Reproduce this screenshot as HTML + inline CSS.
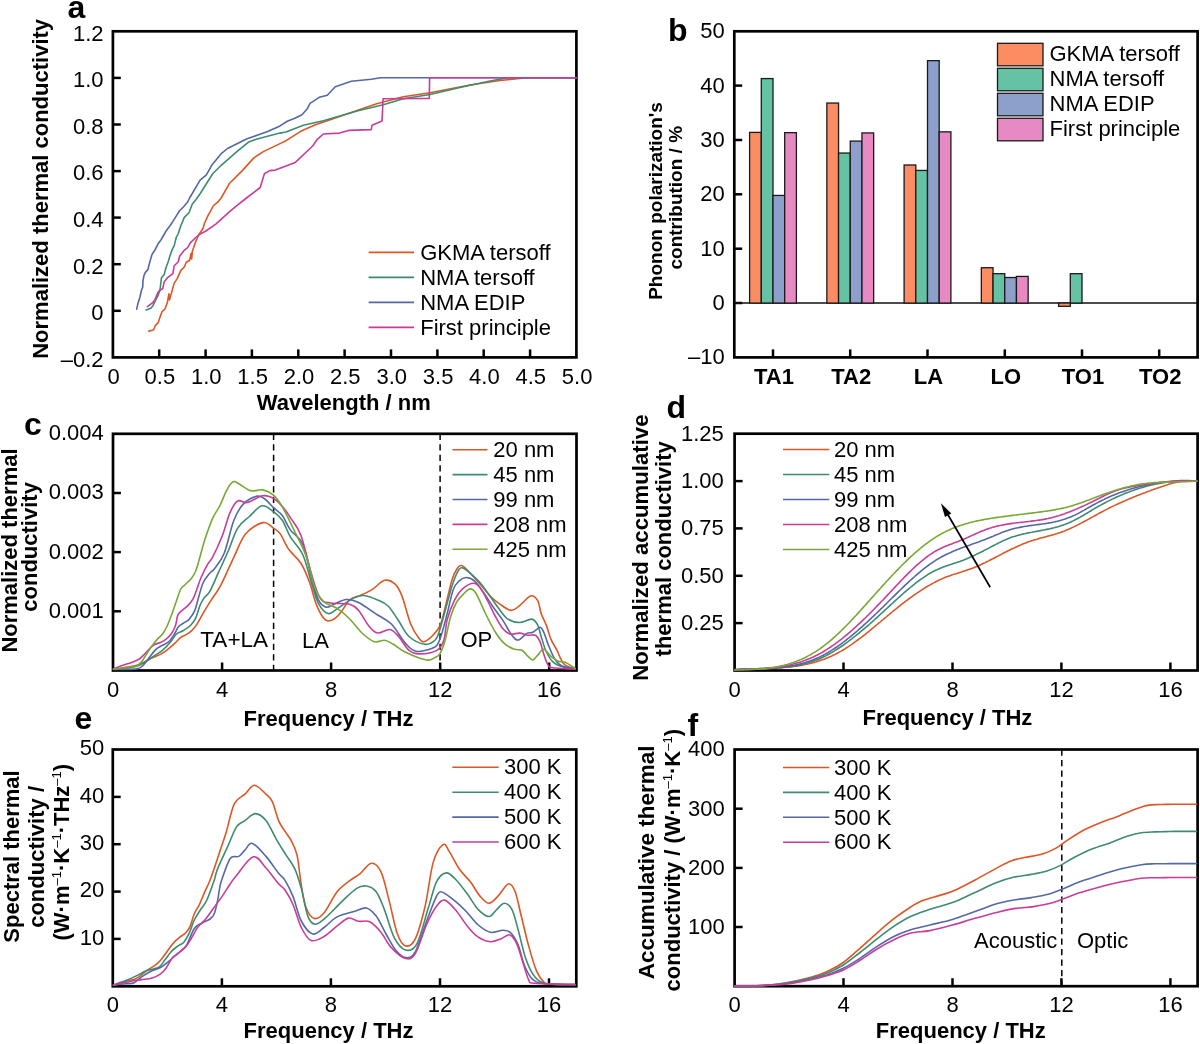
<!DOCTYPE html>
<html><head><meta charset="utf-8"><title>Figure</title>
<style>
html,body{margin:0;padding:0;background:#fff;}
body{width:1200px;height:1044px;overflow:hidden;}
svg{display:block;will-change:transform;}
text{font-family:"Liberation Sans", sans-serif;fill:#000;}
</style></head>
<body>
<svg width="1200" height="1044" viewBox="0 0 1200 1044" font-family='"Liberation Sans", sans-serif'>
<rect width="1200" height="1044" fill="#fff"/>
<rect x="112.9" y="31.3" width="463.5" height="326.1" fill="none" stroke="#000" stroke-width="2.7"/>
<line x1="112.9" y1="310.8" x2="120.8" y2="310.8" stroke="#000" stroke-width="2.5"/>
<line x1="112.9" y1="264.2" x2="120.8" y2="264.2" stroke="#000" stroke-width="2.5"/>
<line x1="112.9" y1="217.6" x2="120.8" y2="217.6" stroke="#000" stroke-width="2.5"/>
<line x1="112.9" y1="171.1" x2="120.8" y2="171.1" stroke="#000" stroke-width="2.5"/>
<line x1="112.9" y1="124.5" x2="120.8" y2="124.5" stroke="#000" stroke-width="2.5"/>
<line x1="112.9" y1="77.9" x2="120.8" y2="77.9" stroke="#000" stroke-width="2.5"/>
<line x1="159.2" y1="357.4" x2="159.2" y2="349.4" stroke="#000" stroke-width="2.5"/>
<line x1="205.6" y1="357.4" x2="205.6" y2="349.4" stroke="#000" stroke-width="2.5"/>
<line x1="251.9" y1="357.4" x2="251.9" y2="349.4" stroke="#000" stroke-width="2.5"/>
<line x1="298.3" y1="357.4" x2="298.3" y2="349.4" stroke="#000" stroke-width="2.5"/>
<line x1="344.6" y1="357.4" x2="344.6" y2="349.4" stroke="#000" stroke-width="2.5"/>
<line x1="391.0" y1="357.4" x2="391.0" y2="349.4" stroke="#000" stroke-width="2.5"/>
<line x1="437.4" y1="357.4" x2="437.4" y2="349.4" stroke="#000" stroke-width="2.5"/>
<line x1="483.7" y1="357.4" x2="483.7" y2="349.4" stroke="#000" stroke-width="2.5"/>
<line x1="530.1" y1="357.4" x2="530.1" y2="349.4" stroke="#000" stroke-width="2.5"/>
<text x="103.5" y="40.6" font-size="22" text-anchor="end" >1.2</text>
<text x="103.5" y="87.2" font-size="22" text-anchor="end" >1.0</text>
<text x="103.5" y="133.8" font-size="22" text-anchor="end" >0.8</text>
<text x="103.5" y="180.4" font-size="22" text-anchor="end" >0.6</text>
<text x="103.5" y="226.9" font-size="22" text-anchor="end" >0.4</text>
<text x="103.5" y="273.5" font-size="22" text-anchor="end" >0.2</text>
<text x="103.5" y="320.1" font-size="22" text-anchor="end" >0</text>
<text x="103.5" y="366.7" font-size="22" text-anchor="end" >&#8211;0.2</text>
<text x="113.6" y="383.5" font-size="22" text-anchor="middle" >0</text>
<text x="159.9" y="383.5" font-size="22" text-anchor="middle" >0.5</text>
<text x="206.3" y="383.5" font-size="22" text-anchor="middle" >1.0</text>
<text x="252.6" y="383.5" font-size="22" text-anchor="middle" >1.5</text>
<text x="299.0" y="383.5" font-size="22" text-anchor="middle" >2.0</text>
<text x="345.3" y="383.5" font-size="22" text-anchor="middle" >2.5</text>
<text x="391.7" y="383.5" font-size="22" text-anchor="middle" >3.0</text>
<text x="438.1" y="383.5" font-size="22" text-anchor="middle" >3.5</text>
<text x="484.4" y="383.5" font-size="22" text-anchor="middle" >4.0</text>
<text x="530.8" y="383.5" font-size="22" text-anchor="middle" >4.5</text>
<text x="577.1" y="383.5" font-size="22" text-anchor="middle" >5.0</text>
<text x="343.8" y="409.5" font-size="22" font-weight="bold" text-anchor="middle" >Wavelength / nm</text>
<text transform="translate(48.4,358.8) rotate(-90)" font-size="22" font-weight="bold" text-anchor="start" >Normalized thermal conductivity</text>
<text x="67.5" y="18.0" font-size="32" font-weight="bold" text-anchor="start" >a</text>
<path d="M148.8,331.1 L153.5,330.0 L155.5,325.3 L158.2,322.7 L160.2,316.6 L162.2,311.3 L164.9,309.2 L167.5,301.9 L168.9,293.8 L169.5,299.9 L171.6,292.5 L174.2,283.1 L176.9,279.1 L180.9,270.4 L184.3,267.0 L186.3,262.3 L189.7,260.3 L191.0,253.6 L191.7,259.0 L192.3,251.6 L195.7,241.6 L198.4,235.5 L203.1,228.2 L204.4,223.5 L207.7,216.1 L210.4,211.4 L213.1,206.0 L218.5,201.3 L221.2,198.0 L229.6,183.2 L242.3,170.6 L253.9,157.9 L263.3,151.6 L280.0,143.6 L286.0,140.7 L300.7,131.3 L315.3,124.7 L327.3,120.7 L344.7,114.7 L360.7,109.3 L376.7,103.7 L403.3,96.7 L430.0,92.8 L470.0,85.0 L500.0,80.5 L526.7,77.7 L576.0,77.7" fill="none" stroke="#DC5726" stroke-width="1.6" stroke-linejoin="round" stroke-linecap="round"/>
<path d="M146.1,309.9 L150.8,308.3 L152.8,305.9 L155.5,300.5 L158.2,295.2 L160.2,288.5 L160.8,283.1 L161.5,277.7 L164.2,274.4 L166.2,267.0 L168.2,261.7 L170.2,255.0 L172.2,249.6 L174.2,245.6 L176.2,237.5 L178.3,233.5 L180.9,225.5 L184.3,217.4 L189.0,212.7 L192.3,204.0 L195.7,200.0 L200.1,193.8 L212.7,173.8 L221.2,165.3 L238.0,150.6 L248.6,142.1 L257.0,139.0 L280.0,133.1 L286.0,132.0 L303.3,125.3 L323.3,120.7 L358.0,110.7 L383.3,104.7 L403.3,98.7 L430.0,94.5 L460.0,87.5 L490.0,81.0 L508.0,77.7 L576.0,77.7" fill="none" stroke="#3D8C70" stroke-width="1.6" stroke-linejoin="round" stroke-linecap="round"/>
<path d="M136.7,309.2 L138.0,303.2 L140.1,296.5 L141.4,290.5 L142.7,287.1 L143.0,280.4 L144.1,275.1 L145.4,272.4 L148.1,269.4 L148.8,265.7 L150.1,261.0 L152.1,254.3 L154.8,250.3 L158.2,243.6 L160.8,240.2 L163.5,235.5 L166.2,230.8 L170.2,225.5 L172.9,221.4 L176.2,216.1 L179.6,210.7 L183.6,206.7 L187.6,202.0 L189.6,198.0 L200.1,180.1 L206.4,174.8 L211.7,165.3 L221.2,153.7 L227.5,148.5 L246.5,139.0 L267.6,131.6 L280.0,125.9 L287.3,121.3 L295.3,118.0 L302.0,114.7 L307.3,108.7 L310.0,103.3 L319.3,97.3 L327.3,95.3 L335.3,86.7 L351.3,81.3 L371.3,79.3 L380.7,77.7 L576.0,77.7" fill="none" stroke="#5468A6" stroke-width="1.6" stroke-linejoin="round" stroke-linecap="round"/>
<path d="M147.4,306.6 L152.1,303.2 L154.8,299.9 L158.2,291.8 L162.8,288.5 L164.2,281.8 L167.5,277.7 L172.9,273.7 L174.2,265.7 L178.3,261.7 L179.6,256.3 L183.6,250.9 L187.6,247.6 L190.3,242.9 L195.7,237.5 L199.7,234.2 L205.1,231.5 L215.8,224.1 L229.9,211.4 L235.9,206.4 L246.5,198.0 L260.2,187.5 L264.4,173.8 L269.7,170.6 L275.3,170.1 L295.3,162.4 L312.7,146.0 L317.3,139.3 L323.3,134.0 L339.3,133.1 L348.7,130.4 L371.3,129.6 L372.0,125.3 L382.0,121.1 L383.1,98.7 L429.3,98.4 L429.6,77.7 L576.0,77.7" fill="none" stroke="#C93D9A" stroke-width="1.6" stroke-linejoin="round" stroke-linecap="round"/>
<line x1="368.6" y1="252.4" x2="414.1" y2="252.4" stroke="#DC5726" stroke-width="1.6"/>
<text x="420.2" y="259.5" font-size="22" text-anchor="start" >GKMA tersoff</text>
<line x1="368.6" y1="277.4" x2="414.1" y2="277.4" stroke="#3D8C70" stroke-width="1.6"/>
<text x="420.2" y="284.5" font-size="22" text-anchor="start" >NMA tersoff</text>
<line x1="368.6" y1="302.4" x2="414.1" y2="302.4" stroke="#5468A6" stroke-width="1.6"/>
<text x="420.2" y="309.5" font-size="22" text-anchor="start" >NMA EDIP</text>
<line x1="368.6" y1="327.4" x2="414.1" y2="327.4" stroke="#C93D9A" stroke-width="1.6"/>
<text x="420.2" y="334.5" font-size="22" text-anchor="start" >First principle</text>
<rect x="734.3" y="31.3" width="463.3" height="326.1" fill="none" stroke="#000" stroke-width="2.7"/>
<line x1="734.3" y1="85.6" x2="742.2" y2="85.6" stroke="#000" stroke-width="2.5"/>
<line x1="734.3" y1="140.0" x2="742.2" y2="140.0" stroke="#000" stroke-width="2.5"/>
<line x1="734.3" y1="194.3" x2="742.2" y2="194.3" stroke="#000" stroke-width="2.5"/>
<line x1="734.3" y1="248.7" x2="742.2" y2="248.7" stroke="#000" stroke-width="2.5"/>
<line x1="734.3" y1="303.0" x2="742.2" y2="303.0" stroke="#000" stroke-width="2.5"/>
<line x1="773.0" y1="357.4" x2="773.0" y2="349.4" stroke="#000" stroke-width="2.5"/>
<line x1="850.2" y1="357.4" x2="850.2" y2="349.4" stroke="#000" stroke-width="2.5"/>
<line x1="927.5" y1="357.4" x2="927.5" y2="349.4" stroke="#000" stroke-width="2.5"/>
<line x1="1004.8" y1="357.4" x2="1004.8" y2="349.4" stroke="#000" stroke-width="2.5"/>
<line x1="1082.0" y1="357.4" x2="1082.0" y2="349.4" stroke="#000" stroke-width="2.5"/>
<line x1="1159.2" y1="357.4" x2="1159.2" y2="349.4" stroke="#000" stroke-width="2.5"/>
<text x="724.8" y="38.3" font-size="22" text-anchor="end" >50</text>
<text x="724.8" y="92.6" font-size="22" text-anchor="end" >40</text>
<text x="724.8" y="147.0" font-size="22" text-anchor="end" >30</text>
<text x="724.8" y="201.3" font-size="22" text-anchor="end" >20</text>
<text x="724.8" y="255.7" font-size="22" text-anchor="end" >10</text>
<text x="724.8" y="310.0" font-size="22" text-anchor="end" >0</text>
<text x="724.8" y="364.4" font-size="22" text-anchor="end" >&#8211;10</text>
<text x="774.0" y="384.2" font-size="22" font-weight="bold" text-anchor="middle" >TA1</text>
<text x="851.2" y="384.2" font-size="22" font-weight="bold" text-anchor="middle" >TA2</text>
<text x="928.5" y="384.2" font-size="22" font-weight="bold" text-anchor="middle" >LA</text>
<text x="1005.8" y="384.2" font-size="22" font-weight="bold" text-anchor="middle" >LO</text>
<text x="1083.0" y="384.2" font-size="22" font-weight="bold" text-anchor="middle" >TO1</text>
<text x="1160.2" y="384.2" font-size="22" font-weight="bold" text-anchor="middle" >TO2</text>
<line x1="734.3" y1="303.0" x2="1197.6" y2="303.0" stroke="#111" stroke-width="1.5"/>
<rect x="749.60" y="132.39" width="11.70" height="170.66" fill="#FC8D62" stroke="#1a1a1a" stroke-width="1.3"/>
<rect x="761.30" y="78.58" width="11.70" height="224.47" fill="#66C2A5" stroke="#1a1a1a" stroke-width="1.3"/>
<rect x="773.00" y="195.44" width="11.70" height="107.61" fill="#8DA0CB" stroke="#1a1a1a" stroke-width="1.3"/>
<rect x="784.70" y="132.66" width="11.70" height="170.39" fill="#E78AC3" stroke="#1a1a1a" stroke-width="1.3"/>
<rect x="826.85" y="103.04" width="11.70" height="200.01" fill="#FC8D62" stroke="#1a1a1a" stroke-width="1.3"/>
<rect x="838.55" y="153.04" width="11.70" height="150.01" fill="#66C2A5" stroke="#1a1a1a" stroke-width="1.3"/>
<rect x="850.25" y="141.09" width="11.70" height="161.96" fill="#8DA0CB" stroke="#1a1a1a" stroke-width="1.3"/>
<rect x="861.95" y="132.93" width="11.70" height="170.12" fill="#E78AC3" stroke="#1a1a1a" stroke-width="1.3"/>
<rect x="904.10" y="165.00" width="11.70" height="138.05" fill="#FC8D62" stroke="#1a1a1a" stroke-width="1.3"/>
<rect x="915.80" y="170.44" width="11.70" height="132.61" fill="#66C2A5" stroke="#1a1a1a" stroke-width="1.3"/>
<rect x="927.50" y="60.65" width="11.70" height="242.40" fill="#8DA0CB" stroke="#1a1a1a" stroke-width="1.3"/>
<rect x="939.20" y="131.85" width="11.70" height="171.20" fill="#E78AC3" stroke="#1a1a1a" stroke-width="1.3"/>
<rect x="981.35" y="267.72" width="11.70" height="35.33" fill="#FC8D62" stroke="#1a1a1a" stroke-width="1.3"/>
<rect x="993.05" y="273.70" width="11.70" height="29.35" fill="#66C2A5" stroke="#1a1a1a" stroke-width="1.3"/>
<rect x="1004.75" y="277.51" width="11.70" height="25.54" fill="#8DA0CB" stroke="#1a1a1a" stroke-width="1.3"/>
<rect x="1016.45" y="276.42" width="11.70" height="26.63" fill="#E78AC3" stroke="#1a1a1a" stroke-width="1.3"/>
<rect x="1058.60" y="303.05" width="11.70" height="3.26" fill="#FC8D62" stroke="#1a1a1a" stroke-width="1.3"/>
<rect x="1070.30" y="273.70" width="11.70" height="29.35" fill="#66C2A5" stroke="#1a1a1a" stroke-width="1.3"/>
<rect x="997.5" y="43.3" width="45.5" height="22.5" fill="#FC8D62" stroke="#1a1a1a" stroke-width="1.3"/>
<text x="1049.5" y="61.3" font-size="22" text-anchor="start" >GKMA tersoff</text>
<rect x="997.5" y="68.3" width="45.5" height="22.5" fill="#66C2A5" stroke="#1a1a1a" stroke-width="1.3"/>
<text x="1049.5" y="86.3" font-size="22" text-anchor="start" >NMA tersoff</text>
<rect x="997.5" y="93.3" width="45.5" height="22.5" fill="#8DA0CB" stroke="#1a1a1a" stroke-width="1.3"/>
<text x="1049.5" y="111.3" font-size="22" text-anchor="start" >NMA EDIP</text>
<rect x="997.5" y="118.3" width="45.5" height="22.5" fill="#E78AC3" stroke="#1a1a1a" stroke-width="1.3"/>
<text x="1049.5" y="136.3" font-size="22" text-anchor="start" >First principle</text>
<text transform="translate(662.3,299.8) rotate(-90)" font-size="19" font-weight="bold" text-anchor="start" >Phonon polarization's</text>
<text transform="translate(681.8,269.5) rotate(-90)" font-size="19" font-weight="bold" text-anchor="start" >contribution / %</text>
<text x="668.0" y="40.5" font-size="32" font-weight="bold" text-anchor="start" >b</text>
<rect x="113.0" y="433.8" width="463.5" height="236.7" fill="none" stroke="#000" stroke-width="2.7"/>
<line x1="113.0" y1="611.3" x2="120.9" y2="611.3" stroke="#000" stroke-width="2.5"/>
<line x1="113.0" y1="552.1" x2="120.9" y2="552.1" stroke="#000" stroke-width="2.5"/>
<line x1="113.0" y1="493.0" x2="120.9" y2="493.0" stroke="#000" stroke-width="2.5"/>
<line x1="222.1" y1="670.5" x2="222.1" y2="662.5" stroke="#000" stroke-width="2.5"/>
<line x1="331.1" y1="670.5" x2="331.1" y2="662.5" stroke="#000" stroke-width="2.5"/>
<line x1="440.2" y1="670.5" x2="440.2" y2="662.5" stroke="#000" stroke-width="2.5"/>
<line x1="549.2" y1="670.5" x2="549.2" y2="662.5" stroke="#000" stroke-width="2.5"/>
<text x="103.8" y="440.2" font-size="22" text-anchor="end" >0.004</text>
<text x="103.8" y="499.4" font-size="22" text-anchor="end" >0.003</text>
<text x="103.8" y="558.5" font-size="22" text-anchor="end" >0.002</text>
<text x="103.8" y="617.7" font-size="22" text-anchor="end" >0.001</text>
<text x="113.0" y="696.8" font-size="22" text-anchor="middle" >0</text>
<text x="222.1" y="696.8" font-size="22" text-anchor="middle" >4</text>
<text x="331.1" y="696.8" font-size="22" text-anchor="middle" >8</text>
<text x="440.2" y="696.8" font-size="22" text-anchor="middle" >12</text>
<text x="549.2" y="696.8" font-size="22" text-anchor="middle" >16</text>
<text x="328.5" y="725.6" font-size="22" font-weight="bold" text-anchor="middle" >Frequency / THz</text>
<text transform="translate(17.1,652.6) rotate(-90)" font-size="22" font-weight="bold" text-anchor="start" >Normalized thermal</text>
<text transform="translate(36.7,611.7) rotate(-90)" font-size="22" font-weight="bold" text-anchor="start" >conductivity</text>
<text x="24.0" y="435.0" font-size="32" font-weight="bold" text-anchor="start" >c</text>
<line x1="273.6" y1="433.8" x2="273.6" y2="670.5" stroke="#000" stroke-width="1.5" stroke-dasharray="6.2,4.3"/>
<line x1="440.1" y1="433.8" x2="440.1" y2="670.5" stroke="#000" stroke-width="1.5" stroke-dasharray="6.2,4.3"/>
<path d="M113.5,669.2 C115.6,668.9 122.2,668.0 126.1,667.3 C130.0,666.6 133.8,666.1 136.8,665.2 C139.8,664.3 141.6,663.2 144.3,661.9 C147.0,660.6 150.2,658.9 152.9,657.6 C155.6,656.4 158.1,655.6 160.4,654.4 C162.7,653.1 164.6,651.9 166.9,650.1 C169.2,648.3 172.1,645.8 174.4,643.7 C176.7,641.6 178.8,638.8 180.8,637.3 C182.8,635.8 184.4,635.7 186.2,634.6 C188.0,633.5 189.7,632.5 191.5,630.8 C193.3,629.1 195.1,627.1 196.9,624.4 C198.7,621.7 200.1,618.5 202.3,614.7 C204.5,610.9 207.0,606.6 210.0,601.8 C213.0,597.0 216.3,593.5 220.3,586.1 C224.3,578.7 229.7,565.8 233.9,557.1 C238.1,548.4 240.7,539.6 245.5,533.9 C250.3,528.1 258.2,523.6 262.9,522.6 C267.6,521.6 270.6,526.2 273.5,528.1 C276.4,530.0 277.8,530.4 280.3,533.9 C282.8,537.4 285.3,544.4 288.7,549.3 C292.1,554.2 297.4,557.7 300.9,563.2 C304.4,568.7 307.0,575.4 309.6,582.4 C312.2,589.4 314.0,598.9 316.6,605.1 C319.2,611.4 322.4,617.6 325.3,619.9 C328.2,622.2 331.5,620.3 334.1,619.0 C336.7,617.7 338.4,615.3 341.0,612.1 C343.6,608.9 346.5,602.7 349.7,599.9 C352.9,597.1 356.4,597.2 360.2,595.5 C364.0,593.8 368.3,591.9 372.4,589.4 C376.5,586.9 380.8,581.2 384.6,580.3 C388.4,579.4 392.2,581.5 395.1,584.2 C398.0,586.9 399.5,589.7 402.1,596.4 C404.7,603.1 407.9,617.2 410.8,624.3 C413.7,631.4 417.2,636.2 419.5,639.1 C421.8,642.0 422.4,642.1 424.7,641.4 C427.0,640.7 430.8,637.5 433.4,634.7 C436.0,632.0 438.3,630.0 440.4,624.9 C442.5,619.8 444.0,611.8 445.9,604.4 C447.8,597.0 450.1,586.1 451.9,580.2 C453.7,574.4 455.1,571.8 456.7,569.3 C458.3,566.8 459.6,565.1 461.6,565.5 C463.6,565.9 465.6,568.5 468.8,571.7 C472.0,575.0 477.3,580.9 480.9,585.0 C484.5,589.1 487.4,593.3 490.6,596.5 C493.8,599.7 496.8,602.1 500.2,604.4 C503.6,606.7 507.9,610.2 511.1,610.4 C514.3,610.6 516.4,608.0 519.6,605.6 C522.8,603.2 527.5,596.7 530.5,595.9 C533.5,595.1 535.9,597.7 537.7,600.7 C539.5,603.7 539.9,610.0 541.3,614.0 C542.7,618.0 544.6,620.7 546.2,624.9 C547.8,629.1 549.2,635.2 551.0,639.4 C552.8,643.6 555.4,647.1 557.0,650.3 C558.6,653.5 559.3,656.2 560.7,658.7 C562.1,661.2 563.1,663.7 565.5,665.4 C567.9,667.1 573.6,668.4 575.2,669.0" fill="none" stroke="#DC5726" stroke-width="1.6" stroke-linejoin="round" stroke-linecap="round"/>
<path d="M113.5,669.2 C114.7,669.2 116.8,669.4 120.7,668.9 C124.6,668.4 132.7,667.4 136.8,666.2 C140.9,665.0 142.7,663.5 145.4,661.9 C148.1,660.3 150.2,658.4 152.9,656.6 C155.6,654.8 158.6,653.5 161.5,651.2 C164.4,648.9 167.6,645.5 170.1,642.6 C172.6,639.7 174.3,636.0 176.5,634.0 C178.7,632.0 180.7,632.2 183.0,630.8 C185.3,629.4 188.4,627.6 190.5,625.5 C192.6,623.4 194.2,621.3 195.8,617.9 C197.4,614.5 198.7,608.5 200.1,605.1 C201.5,601.7 202.8,599.9 204.4,597.6 C206.1,595.3 207.7,595.3 210.0,591.1 C212.3,586.9 215.4,579.2 218.4,572.6 C221.4,566.0 224.9,558.7 228.1,551.3 C231.3,543.9 234.1,533.9 237.7,528.1 C241.2,522.3 245.4,520.2 249.4,516.5 C253.4,512.8 257.9,506.6 261.9,505.8 C265.9,505.0 270.1,509.2 273.5,511.6 C276.9,514.0 279.5,516.0 282.3,520.3 C285.1,524.5 287.1,531.4 290.5,537.1 C293.9,542.8 299.2,547.0 302.7,554.5 C306.2,562.0 308.8,574.3 311.4,582.4 C314.0,590.5 315.6,598.1 318.4,603.3 C321.2,608.5 324.8,612.6 328.0,613.5 C331.2,614.4 333.3,611.2 337.5,608.6 C341.7,606.0 348.8,600.3 353.2,598.1 C357.6,595.9 359.6,595.2 363.7,595.5 C367.8,595.8 373.5,598.1 377.6,599.9 C381.7,601.6 384.6,602.5 388.1,606.0 C391.6,609.5 395.1,615.7 398.6,620.8 C402.1,625.9 404.6,632.6 409.0,636.5 C413.4,640.4 420.3,643.7 424.7,644.3 C429.1,644.9 432.7,642.4 435.2,640.0 C437.7,637.6 438.0,635.0 439.8,629.7 C441.6,624.4 443.9,615.2 445.9,608.0 C447.9,600.8 449.9,592.4 451.9,586.2 C453.9,580.1 456.2,574.2 458.0,571.1 C459.8,568.0 460.6,567.4 462.8,567.9 C465.0,568.4 468.3,571.6 471.3,574.2 C474.3,576.9 477.7,580.0 480.9,583.8 C484.1,587.6 487.4,592.7 490.6,597.1 C493.8,601.5 497.4,606.8 500.2,610.4 C503.0,614.0 504.3,616.9 507.5,618.9 C510.7,620.9 515.6,622.5 519.6,622.5 C523.6,622.5 528.7,618.7 531.7,619.1 C534.7,619.5 536.1,621.9 537.7,624.9 C539.3,627.9 539.9,632.6 541.3,637.0 C542.7,641.4 544.2,647.3 546.2,651.5 C548.2,655.7 550.8,659.9 553.4,662.4 C556.0,664.9 558.3,665.5 561.9,666.6 C565.5,667.7 573.0,668.6 575.2,669.0" fill="none" stroke="#3D8C70" stroke-width="1.6" stroke-linejoin="round" stroke-linecap="round"/>
<path d="M113.5,669.4 C114.7,669.4 116.8,669.5 120.7,669.4 C124.6,669.3 133.2,669.4 136.8,668.9 C140.4,668.4 140.4,667.7 142.2,666.2 C144.0,664.7 145.4,662.5 147.6,659.8 C149.8,657.1 152.8,652.4 155.1,650.1 C157.4,647.8 159.2,647.2 161.5,645.8 C163.8,644.4 166.8,643.5 169.0,641.5 C171.2,639.5 172.8,636.5 174.4,634.0 C176.0,631.5 176.9,628.5 178.7,626.5 C180.5,624.5 183.3,623.5 185.1,622.2 C186.9,621.0 187.8,621.0 189.4,619.0 C191.0,617.0 193.2,614.3 194.8,610.4 C196.4,606.5 197.7,600.0 199.1,595.4 C200.5,590.8 201.5,586.2 203.3,582.5 C205.1,578.8 208.1,575.2 210.0,572.9 C211.9,570.6 212.1,572.0 214.5,568.7 C216.9,565.4 221.0,561.3 224.2,553.2 C227.4,545.1 230.7,528.5 233.9,520.3 C237.1,512.1 239.6,507.9 243.5,503.9 C247.4,499.9 253.6,496.9 257.1,496.1 C260.7,495.3 262.1,497.1 264.8,499.0 C267.5,500.9 270.6,504.9 273.5,507.7 C276.4,510.4 279.5,511.8 282.3,515.5 C285.1,519.2 287.1,525.3 290.5,530.1 C293.9,534.9 299.2,536.2 302.7,544.1 C306.2,552.0 308.8,567.9 311.4,577.2 C314.0,586.5 315.9,594.9 318.4,599.9 C320.9,604.9 323.6,606.5 326.2,607.2 C328.8,607.9 330.8,605.5 334.1,604.2 C337.5,602.9 342.2,599.8 346.3,599.5 C350.4,599.2 353.6,600.1 358.5,602.5 C363.4,604.9 370.4,610.2 375.9,613.8 C381.4,617.4 386.7,619.4 391.6,624.3 C396.5,629.2 401.4,638.9 405.5,643.4 C409.6,647.9 411.4,650.6 416.0,651.3 C420.6,652.0 429.4,649.8 433.4,647.8 C437.4,645.8 437.5,645.0 439.8,639.4 C442.1,633.8 444.9,622.2 447.1,614.0 C449.3,605.8 451.1,595.4 453.1,589.9 C455.1,584.4 457.0,582.9 459.2,580.8 C461.4,578.7 463.8,577.4 466.4,577.5 C469.0,577.6 472.1,578.9 474.9,581.4 C477.7,583.9 480.3,588.1 483.3,592.3 C486.3,596.5 489.8,602.2 493.0,606.8 C496.2,611.4 499.5,615.3 502.7,620.1 C505.9,624.9 509.7,632.5 512.3,635.8 C514.9,639.1 516.0,640.4 518.4,640.0 C520.8,639.6 524.4,634.7 526.8,633.4 C529.2,632.1 530.7,633.2 532.9,632.2 C535.1,631.2 538.3,627.3 540.1,627.3 C541.9,627.3 542.3,629.2 543.7,632.2 C545.1,635.2 546.8,641.1 548.6,645.5 C550.4,649.9 552.4,655.3 554.6,658.7 C556.8,662.1 558.5,664.3 561.9,666.0 C565.3,667.7 573.0,668.5 575.2,669.0" fill="none" stroke="#5468A6" stroke-width="1.6" stroke-linejoin="round" stroke-linecap="round"/>
<path d="M113.5,668.8 C115.1,668.2 119.9,666.2 122.9,665.2 C125.9,664.2 128.8,663.5 131.5,662.5 C134.2,661.5 136.9,660.6 139.0,659.2 C141.1,657.9 142.3,656.4 144.3,654.4 C146.3,652.4 149.0,649.1 150.8,647.4 C152.6,645.7 153.5,645.0 155.1,644.2 C156.7,643.4 158.6,643.4 160.4,642.6 C162.2,641.8 164.0,640.8 165.8,639.4 C167.6,638.0 169.6,636.3 171.2,634.0 C172.8,631.7 174.4,628.5 175.5,625.5 C176.6,622.5 176.7,618.1 177.6,615.8 C178.5,613.5 179.2,613.1 180.8,611.5 C182.4,609.9 185.3,608.1 187.3,606.1 C189.3,604.1 191.0,602.6 192.6,599.7 C194.2,596.9 195.5,592.8 196.9,589.0 C198.3,585.2 199.4,581.3 201.2,577.2 C203.0,573.1 205.7,567.6 207.6,564.3 C209.5,560.9 210.1,561.9 212.6,557.1 C215.1,552.4 219.4,543.2 222.3,535.8 C225.2,528.4 227.4,518.4 230.0,512.6 C232.6,506.8 234.8,502.7 237.7,501.0 C240.6,499.3 243.2,503.4 247.4,502.5 C251.6,501.6 258.4,496.3 262.9,495.7 C267.4,495.1 270.9,496.8 274.5,499.0 C278.1,501.2 281.5,505.6 284.2,508.7 C286.9,511.8 287.7,513.5 290.5,517.9 C293.3,522.3 297.4,526.0 300.9,535.3 C304.4,544.6 308.2,563.2 311.4,573.7 C314.6,584.2 316.9,593.2 320.1,598.1 C323.3,603.0 325.7,602.0 330.6,603.0 C335.5,604.0 345.1,603.0 349.7,604.2 C354.3,605.4 355.3,606.7 358.5,610.3 C361.7,613.9 365.7,622.2 368.9,626.0 C372.1,629.8 374.1,632.4 377.6,633.0 C381.1,633.6 386.4,628.9 389.9,629.5 C393.4,630.1 395.4,633.0 398.6,636.5 C401.8,640.0 405.5,647.5 409.0,650.4 C412.5,653.3 414.9,653.9 419.5,653.9 C424.1,653.9 432.8,652.7 436.9,650.4 C441.0,648.1 442.2,645.0 443.9,640.0 C445.6,635.0 445.4,626.6 447.1,620.1 C448.8,613.6 451.7,605.9 454.3,600.7 C456.9,595.5 459.6,591.6 462.8,588.7 C466.0,585.8 470.7,583.2 473.7,583.2 C476.7,583.2 478.5,585.6 480.9,588.7 C483.3,591.8 485.8,597.4 488.2,602.0 C490.6,606.6 493.0,612.1 495.4,616.5 C497.8,620.9 500.3,625.6 502.7,628.5 C505.1,631.4 507.1,633.2 509.9,634.0 C512.7,634.8 516.6,632.9 519.6,633.1 C522.6,633.3 525.4,634.9 528.0,635.2 C530.6,635.6 533.3,634.1 535.3,635.2 C537.3,636.3 538.7,638.7 540.1,641.8 C541.5,644.9 542.5,650.3 543.7,653.9 C544.9,657.5 546.0,661.3 547.4,663.6 C548.8,665.9 547.6,666.9 552.2,667.8 C556.8,668.7 571.4,668.8 575.2,669.0" fill="none" stroke="#C93D9A" stroke-width="1.6" stroke-linejoin="round" stroke-linecap="round"/>
<path d="M113.5,669.2 C115.6,669.0 122.2,668.4 126.1,667.8 C130.0,667.2 134.1,666.9 136.8,665.7 C139.5,664.6 140.4,663.1 142.2,660.9 C144.0,658.7 145.8,655.0 147.6,652.3 C149.4,649.6 151.3,646.9 152.9,644.8 C154.5,642.6 155.6,641.2 157.2,639.4 C158.8,637.6 161.0,636.1 162.6,634.0 C164.2,631.9 165.5,629.5 166.9,626.5 C168.3,623.5 169.6,620.1 171.2,615.8 C172.8,611.5 174.9,605.3 176.5,600.8 C178.1,596.3 179.4,591.7 180.8,589.0 C182.2,586.3 183.3,586.5 185.1,584.7 C186.9,582.9 189.7,580.5 191.5,578.2 C193.3,575.9 194.5,573.7 195.8,570.7 C197.1,567.7 197.6,565.2 199.1,560.0 C200.6,554.8 202.6,546.6 204.8,539.7 C207.1,532.8 210.0,524.2 212.6,518.4 C215.2,512.6 218.1,509.3 220.3,504.8 C222.6,500.3 224.3,494.9 226.1,491.3 C227.9,487.8 229.6,485.1 231.0,483.5 C232.4,481.9 233.0,481.3 234.8,481.6 C236.6,481.9 238.8,483.9 241.6,485.5 C244.3,487.1 247.8,490.2 251.3,490.9 C254.9,491.6 259.2,489.2 262.9,489.9 C266.6,490.6 270.3,492.4 273.5,495.2 C276.7,498.0 278.9,501.0 282.3,506.8 C285.7,512.6 290.0,521.9 294.0,530.1 C298.0,538.4 302.7,546.7 306.2,556.3 C309.7,565.9 312.0,580.0 314.9,587.6 C317.8,595.2 319.8,598.1 323.6,601.6 C327.4,605.1 333.1,605.7 337.5,608.6 C341.9,611.5 345.6,614.9 349.7,619.0 C353.8,623.1 357.9,629.2 362.0,633.0 C366.1,636.8 370.4,640.5 374.2,641.7 C378.0,642.9 381.4,639.9 384.6,640.3 C387.8,640.7 389.8,642.3 393.3,644.3 C396.8,646.3 400.0,649.6 405.5,652.2 C411.0,654.8 421.6,659.1 426.5,660.0 C431.4,660.9 432.8,658.5 435.0,657.5 C437.2,656.5 438.2,656.5 439.8,653.9 C441.4,651.3 442.9,648.0 444.7,641.8 C446.5,635.6 448.7,623.1 450.7,616.5 C452.7,609.9 454.5,605.8 456.7,602.0 C458.9,598.2 461.8,595.7 464.0,593.5 C466.2,591.3 468.0,588.9 470.0,588.9 C472.0,588.9 473.5,589.3 476.1,593.5 C478.7,597.7 482.5,607.5 485.7,614.0 C488.9,620.5 492.2,627.2 495.4,632.2 C498.6,637.2 501.9,641.4 505.1,644.2 C508.3,647.1 511.9,648.3 514.7,649.3 C517.5,650.3 519.8,649.1 522.0,650.3 C524.2,651.5 526.2,654.7 528.0,656.3 C529.8,657.9 531.3,660.2 532.9,660.0 C534.5,659.8 535.9,656.9 537.7,655.1 C539.5,653.3 541.5,649.1 543.7,649.3 C545.9,649.5 548.6,654.3 551.0,656.3 C553.4,658.3 555.8,660.2 558.2,661.2 C560.6,662.2 562.7,661.2 565.5,662.4 C568.3,663.6 573.6,667.4 575.2,668.4" fill="none" stroke="#78A835" stroke-width="1.6" stroke-linejoin="round" stroke-linecap="round"/>
<text x="200.3" y="647.4" font-size="22.5" text-anchor="start" >TA+LA</text>
<text x="302.0" y="647.8" font-size="22" text-anchor="start" >LA</text>
<text x="460.5" y="647.3" font-size="22" text-anchor="start" >OP</text>
<line x1="452.5" y1="449.7" x2="487.5" y2="449.7" stroke="#DC5726" stroke-width="1.6"/>
<text x="493.3" y="456.9" font-size="22" text-anchor="start" >20 nm</text>
<line x1="452.5" y1="474.6" x2="487.5" y2="474.6" stroke="#3D8C70" stroke-width="1.6"/>
<text x="493.3" y="481.8" font-size="22" text-anchor="start" >45 nm</text>
<line x1="452.5" y1="499.5" x2="487.5" y2="499.5" stroke="#5468A6" stroke-width="1.6"/>
<text x="493.3" y="506.7" font-size="22" text-anchor="start" >99 nm</text>
<line x1="452.5" y1="524.4" x2="487.5" y2="524.4" stroke="#C93D9A" stroke-width="1.6"/>
<text x="493.3" y="531.6" font-size="22" text-anchor="start" >208 nm</text>
<line x1="452.5" y1="549.3" x2="487.5" y2="549.3" stroke="#78A835" stroke-width="1.6"/>
<text x="493.3" y="556.5" font-size="22" text-anchor="start" >425 nm</text>
<rect x="734.6" y="433.7" width="463.0" height="236.8" fill="none" stroke="#000" stroke-width="2.7"/>
<line x1="734.6" y1="623.1" x2="742.6" y2="623.1" stroke="#000" stroke-width="2.5"/>
<line x1="734.6" y1="575.8" x2="742.6" y2="575.8" stroke="#000" stroke-width="2.5"/>
<line x1="734.6" y1="528.4" x2="742.6" y2="528.4" stroke="#000" stroke-width="2.5"/>
<line x1="734.6" y1="481.1" x2="742.6" y2="481.1" stroke="#000" stroke-width="2.5"/>
<line x1="843.5" y1="670.5" x2="843.5" y2="662.5" stroke="#000" stroke-width="2.5"/>
<line x1="952.5" y1="670.5" x2="952.5" y2="662.5" stroke="#000" stroke-width="2.5"/>
<line x1="1061.4" y1="670.5" x2="1061.4" y2="662.5" stroke="#000" stroke-width="2.5"/>
<line x1="1170.4" y1="670.5" x2="1170.4" y2="662.5" stroke="#000" stroke-width="2.5"/>
<text x="723.8" y="440.7" font-size="22" text-anchor="end" >1.25</text>
<text x="723.8" y="488.1" font-size="22" text-anchor="end" >1.00</text>
<text x="723.8" y="535.4" font-size="22" text-anchor="end" >0.75</text>
<text x="723.8" y="582.8" font-size="22" text-anchor="end" >0.50</text>
<text x="723.8" y="630.1" font-size="22" text-anchor="end" >0.25</text>
<text x="734.6" y="696.8" font-size="22" text-anchor="middle" >0</text>
<text x="843.5" y="696.8" font-size="22" text-anchor="middle" >4</text>
<text x="952.5" y="696.8" font-size="22" text-anchor="middle" >8</text>
<text x="1061.4" y="696.8" font-size="22" text-anchor="middle" >12</text>
<text x="1170.4" y="696.8" font-size="22" text-anchor="middle" >16</text>
<text x="947.4" y="725.4" font-size="22" font-weight="bold" text-anchor="middle" >Frequency / THz</text>
<text transform="translate(647.8,680.8) rotate(-90)" font-size="22.2" font-weight="bold" text-anchor="start" >Normalized accumulative</text>
<text transform="translate(671.0,656.4) rotate(-90)" font-size="22" font-weight="bold" text-anchor="start" >thermal conductivity</text>
<text x="666.5" y="418.3" font-size="32" font-weight="bold" text-anchor="start" >d</text>
<path d="M734.7,669.7 L736.2,669.6 L737.7,669.5 L739.2,669.4 L740.7,669.3 L742.2,669.2 L743.7,669.2 L745.2,669.1 L746.7,669.0 L748.2,669.0 L749.7,668.9 L751.2,668.9 L752.7,668.8 L754.2,668.8 L755.7,668.7 L757.2,668.7 L758.7,668.6 L760.2,668.6 L761.7,668.5 L763.2,668.5 L764.7,668.4 L766.2,668.4 L767.7,668.3 L769.2,668.3 L770.7,668.2 L772.2,668.2 L773.7,668.1 L775.2,668.0 L776.7,667.9 L778.2,667.8 L779.7,667.8 L781.2,667.7 L782.7,667.5 L784.2,667.4 L785.7,667.3 L787.2,667.2 L788.7,667.0 L790.2,666.9 L791.7,666.7 L793.2,666.5 L794.7,666.3 L796.2,666.1 L797.7,665.9 L799.2,665.6 L800.7,665.4 L802.2,665.1 L803.7,664.8 L805.2,664.5 L806.7,664.2 L808.2,663.9 L809.7,663.5 L811.2,663.2 L812.7,662.8 L814.2,662.4 L815.7,662.0 L817.2,661.5 L818.7,661.0 L820.2,660.5 L821.7,660.0 L823.2,659.5 L824.7,658.9 L826.2,658.3 L827.7,657.7 L829.2,657.1 L830.7,656.4 L832.2,655.8 L833.7,655.0 L835.2,654.3 L836.7,653.5 L838.2,652.7 L839.7,651.9 L841.2,651.1 L842.7,650.2 L844.2,649.3 L845.7,648.3 L847.2,647.4 L848.7,646.4 L850.2,645.4 L851.7,644.4 L853.2,643.3 L854.7,642.2 L856.2,641.1 L857.7,640.0 L859.2,638.9 L860.7,637.8 L862.2,636.6 L863.7,635.5 L865.2,634.3 L866.7,633.1 L868.2,631.9 L869.7,630.7 L871.2,629.4 L872.7,628.2 L874.2,627.0 L875.7,625.7 L877.2,624.5 L878.7,623.2 L880.2,622.0 L881.7,620.7 L883.2,619.5 L884.7,618.2 L886.2,617.0 L887.7,615.7 L889.2,614.5 L890.7,613.2 L892.2,612.0 L893.7,610.7 L895.2,609.5 L896.7,608.3 L898.2,607.1 L899.7,605.9 L901.2,604.7 L902.7,603.5 L904.2,602.4 L905.7,601.2 L907.2,600.1 L908.7,599.0 L910.2,597.9 L911.7,596.8 L913.2,595.7 L914.7,594.6 L916.2,593.6 L917.7,592.6 L919.2,591.6 L920.7,590.6 L922.2,589.6 L923.7,588.7 L925.2,587.7 L926.7,586.8 L928.2,585.9 L929.7,585.1 L931.2,584.2 L932.7,583.4 L934.2,582.6 L935.7,581.8 L937.2,581.0 L938.7,580.3 L940.2,579.6 L941.7,578.9 L943.2,578.3 L944.7,577.6 L946.2,577.0 L947.7,576.5 L949.2,575.9 L950.7,575.4 L952.2,574.8 L953.7,574.3 L955.2,573.9 L956.7,573.4 L958.2,572.9 L959.7,572.4 L961.2,572.0 L962.7,571.5 L964.2,571.0 L965.7,570.5 L967.2,570.0 L968.7,569.5 L970.2,569.0 L971.7,568.5 L973.2,567.9 L974.7,567.3 L976.2,566.7 L977.7,566.1 L979.2,565.4 L980.7,564.7 L982.2,564.0 L983.7,563.3 L985.2,562.6 L986.7,561.8 L988.2,561.1 L989.7,560.3 L991.2,559.5 L992.7,558.8 L994.2,558.0 L995.7,557.2 L997.2,556.4 L998.7,555.6 L1000.2,554.9 L1001.7,554.1 L1003.2,553.3 L1004.7,552.5 L1006.2,551.8 L1007.7,551.0 L1009.2,550.3 L1010.7,549.5 L1012.2,548.8 L1013.7,548.1 L1015.2,547.4 L1016.7,546.7 L1018.2,546.0 L1019.7,545.4 L1021.2,544.7 L1022.7,544.1 L1024.2,543.5 L1025.7,542.9 L1027.2,542.3 L1028.7,541.8 L1030.2,541.3 L1031.7,540.7 L1033.2,540.3 L1034.7,539.8 L1036.2,539.4 L1037.7,538.9 L1039.2,538.5 L1040.7,538.1 L1042.2,537.7 L1043.7,537.3 L1045.2,536.9 L1046.7,536.5 L1048.2,536.1 L1049.7,535.7 L1051.2,535.3 L1052.7,534.9 L1054.2,534.5 L1055.7,534.0 L1057.2,533.6 L1058.7,533.1 L1060.2,532.6 L1061.7,532.0 L1063.2,531.4 L1064.7,530.9 L1066.2,530.2 L1067.7,529.6 L1069.2,528.9 L1070.7,528.3 L1072.2,527.6 L1073.7,526.9 L1075.2,526.1 L1076.7,525.4 L1078.2,524.6 L1079.7,523.9 L1081.2,523.1 L1082.7,522.3 L1084.2,521.5 L1085.7,520.7 L1087.2,519.9 L1088.7,519.1 L1090.2,518.3 L1091.7,517.4 L1093.2,516.6 L1094.7,515.8 L1096.2,515.0 L1097.7,514.1 L1099.2,513.3 L1100.7,512.5 L1102.2,511.7 L1103.7,510.9 L1105.2,510.1 L1106.7,509.4 L1108.2,508.6 L1109.7,507.8 L1111.2,507.1 L1112.7,506.4 L1114.2,505.6 L1115.7,504.9 L1117.2,504.2 L1118.7,503.5 L1120.2,502.9 L1121.7,502.2 L1123.2,501.5 L1124.7,500.9 L1126.2,500.2 L1127.7,499.6 L1129.2,498.9 L1130.7,498.3 L1132.2,497.7 L1133.7,497.1 L1135.2,496.5 L1136.7,495.8 L1138.2,495.3 L1139.7,494.7 L1141.2,494.1 L1142.7,493.5 L1144.2,492.9 L1145.7,492.4 L1147.2,491.8 L1148.7,491.2 L1150.2,490.7 L1151.7,490.1 L1153.2,489.6 L1154.7,489.0 L1156.2,488.5 L1157.7,487.9 L1159.2,487.4 L1160.7,486.9 L1162.2,486.4 L1163.7,485.9 L1165.2,485.4 L1166.7,484.9 L1168.2,484.5 L1169.7,484.0 L1171.2,483.6 L1172.7,483.2 L1174.2,482.8 L1175.7,482.5 L1177.2,482.2 L1178.7,481.9 L1180.2,481.6 L1181.7,481.4 L1183.2,481.2 L1184.7,481.0 L1186.2,480.9 L1187.7,480.8 L1189.2,480.7 L1190.7,480.7 L1192.2,480.8 L1193.7,480.8 L1195.2,480.9 L1196.7,481.1" fill="none" stroke="#DC5726" stroke-width="1.6" stroke-linejoin="round" stroke-linecap="round"/>
<path d="M734.7,669.7 L736.2,669.6 L737.7,669.5 L739.2,669.4 L740.7,669.3 L742.2,669.2 L743.7,669.2 L745.2,669.1 L746.7,669.0 L748.2,669.0 L749.7,668.9 L751.2,668.9 L752.7,668.8 L754.2,668.8 L755.7,668.8 L757.2,668.7 L758.7,668.7 L760.2,668.6 L761.7,668.6 L763.2,668.6 L764.7,668.5 L766.2,668.5 L767.7,668.4 L769.2,668.3 L770.7,668.3 L772.2,668.2 L773.7,668.1 L775.2,668.0 L776.7,668.0 L778.2,667.8 L779.7,667.7 L781.2,667.6 L782.7,667.5 L784.2,667.3 L785.7,667.2 L787.2,667.0 L788.7,666.8 L790.2,666.6 L791.7,666.4 L793.2,666.2 L794.7,665.9 L796.2,665.6 L797.7,665.4 L799.2,665.0 L800.7,664.7 L802.2,664.4 L803.7,664.0 L805.2,663.6 L806.7,663.2 L808.2,662.8 L809.7,662.3 L811.2,661.8 L812.7,661.3 L814.2,660.8 L815.7,660.3 L817.2,659.7 L818.7,659.1 L820.2,658.4 L821.7,657.7 L823.2,657.0 L824.7,656.3 L826.2,655.6 L827.7,654.8 L829.2,654.0 L830.7,653.1 L832.2,652.2 L833.7,651.4 L835.2,650.4 L836.7,649.5 L838.2,648.5 L839.7,647.5 L841.2,646.5 L842.7,645.5 L844.2,644.5 L845.7,643.4 L847.2,642.3 L848.7,641.2 L850.2,640.0 L851.7,638.9 L853.2,637.7 L854.7,636.5 L856.2,635.3 L857.7,634.1 L859.2,632.9 L860.7,631.7 L862.2,630.4 L863.7,629.1 L865.2,627.9 L866.7,626.6 L868.2,625.3 L869.7,624.0 L871.2,622.6 L872.7,621.3 L874.2,620.0 L875.7,618.6 L877.2,617.3 L878.7,615.9 L880.2,614.5 L881.7,613.2 L883.2,611.8 L884.7,610.4 L886.2,609.0 L887.7,607.7 L889.2,606.3 L890.7,604.9 L892.2,603.5 L893.7,602.1 L895.2,600.7 L896.7,599.4 L898.2,598.0 L899.7,596.7 L901.2,595.3 L902.7,594.0 L904.2,592.7 L905.7,591.4 L907.2,590.1 L908.7,588.8 L910.2,587.5 L911.7,586.3 L913.2,585.1 L914.7,583.9 L916.2,582.7 L917.7,581.6 L919.2,580.5 L920.7,579.4 L922.2,578.3 L923.7,577.3 L925.2,576.3 L926.7,575.3 L928.2,574.4 L929.7,573.5 L931.2,572.6 L932.7,571.8 L934.2,571.0 L935.7,570.3 L937.2,569.6 L938.7,568.9 L940.2,568.3 L941.7,567.7 L943.2,567.1 L944.7,566.6 L946.2,566.0 L947.7,565.5 L949.2,565.0 L950.7,564.5 L952.2,564.0 L953.7,563.5 L955.2,563.0 L956.7,562.5 L958.2,562.0 L959.7,561.5 L961.2,560.9 L962.7,560.4 L964.2,559.8 L965.7,559.2 L967.2,558.5 L968.7,557.9 L970.2,557.2 L971.7,556.6 L973.2,555.9 L974.7,555.2 L976.2,554.4 L977.7,553.7 L979.2,553.0 L980.7,552.2 L982.2,551.5 L983.7,550.7 L985.2,549.9 L986.7,549.2 L988.2,548.4 L989.7,547.6 L991.2,546.8 L992.7,546.0 L994.2,545.2 L995.7,544.4 L997.2,543.7 L998.7,542.9 L1000.2,542.2 L1001.7,541.4 L1003.2,540.7 L1004.7,540.1 L1006.2,539.4 L1007.7,538.8 L1009.2,538.2 L1010.7,537.6 L1012.2,537.1 L1013.7,536.6 L1015.2,536.2 L1016.7,535.7 L1018.2,535.3 L1019.7,534.9 L1021.2,534.5 L1022.7,534.1 L1024.2,533.8 L1025.7,533.5 L1027.2,533.1 L1028.7,532.8 L1030.2,532.5 L1031.7,532.3 L1033.2,532.0 L1034.7,531.7 L1036.2,531.4 L1037.7,531.1 L1039.2,530.9 L1040.7,530.6 L1042.2,530.3 L1043.7,530.0 L1045.2,529.7 L1046.7,529.4 L1048.2,529.1 L1049.7,528.8 L1051.2,528.4 L1052.7,528.1 L1054.2,527.7 L1055.7,527.3 L1057.2,526.9 L1058.7,526.5 L1060.2,526.0 L1061.7,525.5 L1063.2,525.0 L1064.7,524.5 L1066.2,523.9 L1067.7,523.3 L1069.2,522.7 L1070.7,522.0 L1072.2,521.3 L1073.7,520.6 L1075.2,519.8 L1076.7,519.0 L1078.2,518.2 L1079.7,517.4 L1081.2,516.5 L1082.7,515.7 L1084.2,514.8 L1085.7,513.9 L1087.2,513.0 L1088.7,512.1 L1090.2,511.2 L1091.7,510.3 L1093.2,509.4 L1094.7,508.5 L1096.2,507.6 L1097.7,506.8 L1099.2,505.9 L1100.7,505.1 L1102.2,504.3 L1103.7,503.5 L1105.2,502.7 L1106.7,501.9 L1108.2,501.1 L1109.7,500.4 L1111.2,499.6 L1112.7,498.9 L1114.2,498.2 L1115.7,497.5 L1117.2,496.8 L1118.7,496.2 L1120.2,495.5 L1121.7,494.9 L1123.2,494.2 L1124.7,493.6 L1126.2,493.0 L1127.7,492.4 L1129.2,491.9 L1130.7,491.3 L1132.2,490.8 L1133.7,490.2 L1135.2,489.7 L1136.7,489.2 L1138.2,488.7 L1139.7,488.3 L1141.2,487.8 L1142.7,487.4 L1144.2,486.9 L1145.7,486.5 L1147.2,486.1 L1148.7,485.7 L1150.2,485.3 L1151.7,485.0 L1153.2,484.6 L1154.7,484.3 L1156.2,484.0 L1157.7,483.7 L1159.2,483.4 L1160.7,483.1 L1162.2,482.9 L1163.7,482.6 L1165.2,482.4 L1166.7,482.2 L1168.2,482.0 L1169.7,481.8 L1171.2,481.7 L1172.7,481.5 L1174.2,481.4 L1175.7,481.2 L1177.2,481.1 L1178.7,481.0 L1180.2,481.0 L1181.7,480.9 L1183.2,480.9 L1184.7,480.8 L1186.2,480.8 L1187.7,480.8 L1189.2,480.8 L1190.7,480.8 L1192.2,480.9 L1193.7,480.9 L1195.2,481.0 L1196.7,481.1" fill="none" stroke="#3D8C70" stroke-width="1.6" stroke-linejoin="round" stroke-linecap="round"/>
<path d="M734.7,669.7 L736.2,669.6 L737.7,669.6 L739.2,669.5 L740.7,669.4 L742.2,669.4 L743.7,669.3 L745.2,669.3 L746.7,669.2 L748.2,669.2 L749.7,669.1 L751.2,669.1 L752.7,669.0 L754.2,669.0 L755.7,669.0 L757.2,668.9 L758.7,668.9 L760.2,668.8 L761.7,668.8 L763.2,668.7 L764.7,668.6 L766.2,668.6 L767.7,668.5 L769.2,668.4 L770.7,668.3 L772.2,668.2 L773.7,668.1 L775.2,668.0 L776.7,667.8 L778.2,667.7 L779.7,667.5 L781.2,667.4 L782.7,667.2 L784.2,667.0 L785.7,666.8 L787.2,666.6 L788.7,666.4 L790.2,666.1 L791.7,665.8 L793.2,665.5 L794.7,665.2 L796.2,664.9 L797.7,664.6 L799.2,664.2 L800.7,663.8 L802.2,663.4 L803.7,663.0 L805.2,662.6 L806.7,662.1 L808.2,661.6 L809.7,661.1 L811.2,660.5 L812.7,659.9 L814.2,659.3 L815.7,658.7 L817.2,658.1 L818.7,657.4 L820.2,656.7 L821.7,655.9 L823.2,655.2 L824.7,654.4 L826.2,653.5 L827.7,652.7 L829.2,651.8 L830.7,650.9 L832.2,649.9 L833.7,649.0 L835.2,648.0 L836.7,647.0 L838.2,645.9 L839.7,644.9 L841.2,643.8 L842.7,642.7 L844.2,641.6 L845.7,640.4 L847.2,639.2 L848.7,638.0 L850.2,636.8 L851.7,635.6 L853.2,634.4 L854.7,633.1 L856.2,631.8 L857.7,630.5 L859.2,629.2 L860.7,627.9 L862.2,626.6 L863.7,625.2 L865.2,623.8 L866.7,622.5 L868.2,621.1 L869.7,619.7 L871.2,618.3 L872.7,616.8 L874.2,615.4 L875.7,614.0 L877.2,612.5 L878.7,611.1 L880.2,609.6 L881.7,608.2 L883.2,606.7 L884.7,605.2 L886.2,603.8 L887.7,602.3 L889.2,600.8 L890.7,599.3 L892.2,597.8 L893.7,596.4 L895.2,594.9 L896.7,593.4 L898.2,591.9 L899.7,590.5 L901.2,589.0 L902.7,587.6 L904.2,586.1 L905.7,584.7 L907.2,583.3 L908.7,581.9 L910.2,580.5 L911.7,579.2 L913.2,577.8 L914.7,576.5 L916.2,575.1 L917.7,573.9 L919.2,572.6 L920.7,571.3 L922.2,570.1 L923.7,568.9 L925.2,567.7 L926.7,566.6 L928.2,565.5 L929.7,564.4 L931.2,563.3 L932.7,562.3 L934.2,561.3 L935.7,560.3 L937.2,559.4 L938.7,558.5 L940.2,557.6 L941.7,556.8 L943.2,556.0 L944.7,555.2 L946.2,554.5 L947.7,553.8 L949.2,553.1 L950.7,552.4 L952.2,551.7 L953.7,551.1 L955.2,550.5 L956.7,549.8 L958.2,549.3 L959.7,548.7 L961.2,548.1 L962.7,547.5 L964.2,547.0 L965.7,546.5 L967.2,545.9 L968.7,545.4 L970.2,544.9 L971.7,544.3 L973.2,543.8 L974.7,543.3 L976.2,542.8 L977.7,542.2 L979.2,541.7 L980.7,541.1 L982.2,540.6 L983.7,540.0 L985.2,539.4 L986.7,538.8 L988.2,538.2 L989.7,537.6 L991.2,537.0 L992.7,536.4 L994.2,535.7 L995.7,535.1 L997.2,534.5 L998.7,533.9 L1000.2,533.2 L1001.7,532.6 L1003.2,532.1 L1004.7,531.5 L1006.2,531.0 L1007.7,530.5 L1009.2,530.0 L1010.7,529.5 L1012.2,529.1 L1013.7,528.7 L1015.2,528.3 L1016.7,528.0 L1018.2,527.7 L1019.7,527.4 L1021.2,527.1 L1022.7,526.8 L1024.2,526.5 L1025.7,526.3 L1027.2,526.1 L1028.7,525.8 L1030.2,525.6 L1031.7,525.4 L1033.2,525.2 L1034.7,525.0 L1036.2,524.8 L1037.7,524.6 L1039.2,524.4 L1040.7,524.2 L1042.2,524.0 L1043.7,523.8 L1045.2,523.6 L1046.7,523.3 L1048.2,523.1 L1049.7,522.8 L1051.2,522.6 L1052.7,522.3 L1054.2,522.0 L1055.7,521.6 L1057.2,521.3 L1058.7,520.9 L1060.2,520.5 L1061.7,520.1 L1063.2,519.6 L1064.7,519.2 L1066.2,518.6 L1067.7,518.1 L1069.2,517.5 L1070.7,516.9 L1072.2,516.3 L1073.7,515.6 L1075.2,514.9 L1076.7,514.1 L1078.2,513.4 L1079.7,512.6 L1081.2,511.8 L1082.7,510.9 L1084.2,510.1 L1085.7,509.2 L1087.2,508.4 L1088.7,507.5 L1090.2,506.7 L1091.7,505.8 L1093.2,505.0 L1094.7,504.2 L1096.2,503.4 L1097.7,502.6 L1099.2,501.8 L1100.7,501.0 L1102.2,500.3 L1103.7,499.6 L1105.2,498.8 L1106.7,498.1 L1108.2,497.5 L1109.7,496.8 L1111.2,496.1 L1112.7,495.5 L1114.2,494.9 L1115.7,494.3 L1117.2,493.7 L1118.7,493.1 L1120.2,492.6 L1121.7,492.0 L1123.2,491.5 L1124.7,491.0 L1126.2,490.5 L1127.7,490.0 L1129.2,489.5 L1130.7,489.1 L1132.2,488.6 L1133.7,488.2 L1135.2,487.8 L1136.7,487.4 L1138.2,487.0 L1139.7,486.6 L1141.2,486.2 L1142.7,485.9 L1144.2,485.5 L1145.7,485.2 L1147.2,484.9 L1148.7,484.6 L1150.2,484.3 L1151.7,484.0 L1153.2,483.8 L1154.7,483.5 L1156.2,483.3 L1157.7,483.1 L1159.2,482.9 L1160.7,482.6 L1162.2,482.5 L1163.7,482.3 L1165.2,482.1 L1166.7,482.0 L1168.2,481.8 L1169.7,481.7 L1171.2,481.6 L1172.7,481.5 L1174.2,481.4 L1175.7,481.3 L1177.2,481.2 L1178.7,481.1 L1180.2,481.1 L1181.7,481.0 L1183.2,481.0 L1184.7,481.0 L1186.2,480.9 L1187.7,480.9 L1189.2,480.9 L1190.7,481.0 L1192.2,481.0 L1193.7,481.0 L1195.2,481.1 L1196.7,481.1" fill="none" stroke="#5468A6" stroke-width="1.6" stroke-linejoin="round" stroke-linecap="round"/>
<path d="M734.7,669.7 L736.2,669.7 L737.7,669.7 L739.2,669.6 L740.7,669.6 L742.2,669.6 L743.7,669.6 L745.2,669.5 L746.7,669.5 L748.2,669.5 L749.7,669.4 L751.2,669.4 L752.7,669.3 L754.2,669.3 L755.7,669.2 L757.2,669.1 L758.7,669.0 L760.2,669.0 L761.7,668.9 L763.2,668.8 L764.7,668.7 L766.2,668.5 L767.7,668.4 L769.2,668.3 L770.7,668.1 L772.2,667.9 L773.7,667.8 L775.2,667.6 L776.7,667.4 L778.2,667.1 L779.7,666.9 L781.2,666.7 L782.7,666.4 L784.2,666.1 L785.7,665.8 L787.2,665.5 L788.7,665.2 L790.2,664.8 L791.7,664.5 L793.2,664.1 L794.7,663.7 L796.2,663.3 L797.7,662.8 L799.2,662.4 L800.7,661.9 L802.2,661.4 L803.7,660.8 L805.2,660.3 L806.7,659.7 L808.2,659.1 L809.7,658.5 L811.2,657.8 L812.7,657.2 L814.2,656.5 L815.7,655.7 L817.2,655.0 L818.7,654.2 L820.2,653.4 L821.7,652.6 L823.2,651.7 L824.7,650.8 L826.2,649.9 L827.7,648.9 L829.2,648.0 L830.7,647.0 L832.2,645.9 L833.7,644.9 L835.2,643.8 L836.7,642.7 L838.2,641.6 L839.7,640.4 L841.2,639.3 L842.7,638.1 L844.2,636.9 L845.7,635.6 L847.2,634.4 L848.7,633.1 L850.2,631.8 L851.7,630.5 L853.2,629.2 L854.7,627.9 L856.2,626.5 L857.7,625.1 L859.2,623.7 L860.7,622.3 L862.2,620.9 L863.7,619.4 L865.2,618.0 L866.7,616.5 L868.2,615.0 L869.7,613.6 L871.2,612.0 L872.7,610.5 L874.2,609.0 L875.7,607.5 L877.2,605.9 L878.7,604.4 L880.2,602.8 L881.7,601.2 L883.2,599.7 L884.7,598.1 L886.2,596.5 L887.7,594.9 L889.2,593.3 L890.7,591.7 L892.2,590.1 L893.7,588.5 L895.2,586.9 L896.7,585.3 L898.2,583.7 L899.7,582.1 L901.2,580.5 L902.7,579.0 L904.2,577.4 L905.7,575.9 L907.2,574.4 L908.7,572.9 L910.2,571.4 L911.7,570.0 L913.2,568.5 L914.7,567.1 L916.2,565.7 L917.7,564.4 L919.2,563.1 L920.7,561.8 L922.2,560.5 L923.7,559.3 L925.2,558.1 L926.7,557.0 L928.2,555.9 L929.7,554.8 L931.2,553.8 L932.7,552.8 L934.2,551.9 L935.7,551.0 L937.2,550.2 L938.7,549.4 L940.2,548.7 L941.7,548.0 L943.2,547.3 L944.7,546.6 L946.2,546.0 L947.7,545.4 L949.2,544.8 L950.7,544.3 L952.2,543.7 L953.7,543.1 L955.2,542.6 L956.7,542.0 L958.2,541.4 L959.7,540.8 L961.2,540.2 L962.7,539.6 L964.2,538.9 L965.7,538.3 L967.2,537.6 L968.7,536.9 L970.2,536.3 L971.7,535.6 L973.2,534.9 L974.7,534.2 L976.2,533.5 L977.7,532.9 L979.2,532.2 L980.7,531.6 L982.2,531.0 L983.7,530.4 L985.2,529.8 L986.7,529.2 L988.2,528.7 L989.7,528.2 L991.2,527.8 L992.7,527.3 L994.2,526.9 L995.7,526.5 L997.2,526.1 L998.7,525.8 L1000.2,525.5 L1001.7,525.2 L1003.2,524.9 L1004.7,524.6 L1006.2,524.3 L1007.7,524.1 L1009.2,523.9 L1010.7,523.6 L1012.2,523.4 L1013.7,523.2 L1015.2,523.0 L1016.7,522.8 L1018.2,522.7 L1019.7,522.5 L1021.2,522.3 L1022.7,522.2 L1024.2,522.0 L1025.7,521.8 L1027.2,521.7 L1028.7,521.5 L1030.2,521.3 L1031.7,521.1 L1033.2,520.9 L1034.7,520.7 L1036.2,520.5 L1037.7,520.3 L1039.2,520.1 L1040.7,519.9 L1042.2,519.6 L1043.7,519.4 L1045.2,519.1 L1046.7,518.8 L1048.2,518.5 L1049.7,518.1 L1051.2,517.8 L1052.7,517.4 L1054.2,517.0 L1055.7,516.6 L1057.2,516.1 L1058.7,515.7 L1060.2,515.2 L1061.7,514.7 L1063.2,514.2 L1064.7,513.7 L1066.2,513.1 L1067.7,512.6 L1069.2,512.0 L1070.7,511.4 L1072.2,510.8 L1073.7,510.2 L1075.2,509.6 L1076.7,508.9 L1078.2,508.3 L1079.7,507.6 L1081.2,506.9 L1082.7,506.3 L1084.2,505.6 L1085.7,504.9 L1087.2,504.2 L1088.7,503.4 L1090.2,502.7 L1091.7,502.0 L1093.2,501.2 L1094.7,500.5 L1096.2,499.8 L1097.7,499.0 L1099.2,498.3 L1100.7,497.5 L1102.2,496.8 L1103.7,496.0 L1105.2,495.3 L1106.7,494.6 L1108.2,493.9 L1109.7,493.2 L1111.2,492.6 L1112.7,491.9 L1114.2,491.3 L1115.7,490.8 L1117.2,490.2 L1118.7,489.7 L1120.2,489.3 L1121.7,488.8 L1123.2,488.4 L1124.7,488.1 L1126.2,487.7 L1127.7,487.4 L1129.2,487.1 L1130.7,486.8 L1132.2,486.6 L1133.7,486.3 L1135.2,486.1 L1136.7,485.8 L1138.2,485.6 L1139.7,485.4 L1141.2,485.2 L1142.7,485.0 L1144.2,484.7 L1145.7,484.5 L1147.2,484.3 L1148.7,484.1 L1150.2,483.8 L1151.7,483.6 L1153.2,483.4 L1154.7,483.2 L1156.2,483.0 L1157.7,482.8 L1159.2,482.6 L1160.7,482.4 L1162.2,482.2 L1163.7,482.0 L1165.2,481.8 L1166.7,481.7 L1168.2,481.5 L1169.7,481.4 L1171.2,481.2 L1172.7,481.1 L1174.2,481.0 L1175.7,480.9 L1177.2,480.8 L1178.7,480.7 L1180.2,480.6 L1181.7,480.6 L1183.2,480.6 L1184.7,480.5 L1186.2,480.6 L1187.7,480.6 L1189.2,480.6 L1190.7,480.7 L1192.2,480.7 L1193.7,480.8 L1195.2,481.0 L1196.7,481.1" fill="none" stroke="#C93D9A" stroke-width="1.6" stroke-linejoin="round" stroke-linecap="round"/>
<path d="M734.7,669.7 L736.2,669.7 L737.7,669.7 L739.2,669.7 L740.7,669.7 L742.2,669.7 L743.7,669.7 L745.2,669.6 L746.7,669.6 L748.2,669.6 L749.7,669.5 L751.2,669.5 L752.7,669.4 L754.2,669.4 L755.7,669.3 L757.2,669.2 L758.7,669.1 L760.2,669.0 L761.7,668.9 L763.2,668.7 L764.7,668.6 L766.2,668.4 L767.7,668.2 L769.2,668.0 L770.7,667.8 L772.2,667.6 L773.7,667.4 L775.2,667.1 L776.7,666.8 L778.2,666.5 L779.7,666.2 L781.2,665.9 L782.7,665.5 L784.2,665.2 L785.7,664.8 L787.2,664.4 L788.7,663.9 L790.2,663.5 L791.7,663.0 L793.2,662.5 L794.7,661.9 L796.2,661.4 L797.7,660.8 L799.2,660.2 L800.7,659.6 L802.2,658.9 L803.7,658.2 L805.2,657.5 L806.7,656.7 L808.2,655.9 L809.7,655.1 L811.2,654.3 L812.7,653.4 L814.2,652.5 L815.7,651.6 L817.2,650.6 L818.7,649.6 L820.2,648.6 L821.7,647.5 L823.2,646.4 L824.7,645.2 L826.2,644.1 L827.7,642.9 L829.2,641.6 L830.7,640.4 L832.2,639.1 L833.7,637.7 L835.2,636.4 L836.7,635.0 L838.2,633.6 L839.7,632.2 L841.2,630.7 L842.7,629.2 L844.2,627.8 L845.7,626.2 L847.2,624.7 L848.7,623.2 L850.2,621.6 L851.7,620.0 L853.2,618.4 L854.7,616.8 L856.2,615.2 L857.7,613.6 L859.2,611.9 L860.7,610.3 L862.2,608.6 L863.7,606.9 L865.2,605.3 L866.7,603.6 L868.2,601.9 L869.7,600.2 L871.2,598.5 L872.7,596.9 L874.2,595.2 L875.7,593.5 L877.2,591.8 L878.7,590.1 L880.2,588.5 L881.7,586.8 L883.2,585.1 L884.7,583.5 L886.2,581.8 L887.7,580.2 L889.2,578.6 L890.7,577.0 L892.2,575.3 L893.7,573.8 L895.2,572.2 L896.7,570.6 L898.2,569.1 L899.7,567.5 L901.2,566.0 L902.7,564.5 L904.2,563.0 L905.7,561.6 L907.2,560.1 L908.7,558.7 L910.2,557.3 L911.7,555.9 L913.2,554.6 L914.7,553.2 L916.2,551.9 L917.7,550.6 L919.2,549.3 L920.7,548.1 L922.2,546.9 L923.7,545.7 L925.2,544.5 L926.7,543.4 L928.2,542.3 L929.7,541.2 L931.2,540.1 L932.7,539.1 L934.2,538.1 L935.7,537.2 L937.2,536.2 L938.7,535.3 L940.2,534.5 L941.7,533.6 L943.2,532.8 L944.7,532.1 L946.2,531.3 L947.7,530.6 L949.2,529.9 L950.7,529.2 L952.2,528.6 L953.7,528.0 L955.2,527.4 L956.7,526.8 L958.2,526.3 L959.7,525.7 L961.2,525.2 L962.7,524.7 L964.2,524.3 L965.7,523.8 L967.2,523.4 L968.7,523.0 L970.2,522.6 L971.7,522.2 L973.2,521.8 L974.7,521.5 L976.2,521.1 L977.7,520.8 L979.2,520.5 L980.7,520.2 L982.2,519.9 L983.7,519.6 L985.2,519.3 L986.7,519.1 L988.2,518.8 L989.7,518.6 L991.2,518.3 L992.7,518.1 L994.2,517.8 L995.7,517.6 L997.2,517.4 L998.7,517.2 L1000.2,517.0 L1001.7,516.8 L1003.2,516.6 L1004.7,516.4 L1006.2,516.2 L1007.7,516.0 L1009.2,515.8 L1010.7,515.6 L1012.2,515.4 L1013.7,515.2 L1015.2,515.0 L1016.7,514.9 L1018.2,514.7 L1019.7,514.5 L1021.2,514.3 L1022.7,514.2 L1024.2,514.0 L1025.7,513.8 L1027.2,513.6 L1028.7,513.4 L1030.2,513.3 L1031.7,513.1 L1033.2,512.9 L1034.7,512.7 L1036.2,512.5 L1037.7,512.3 L1039.2,512.1 L1040.7,511.9 L1042.2,511.7 L1043.7,511.5 L1045.2,511.3 L1046.7,511.1 L1048.2,510.8 L1049.7,510.6 L1051.2,510.4 L1052.7,510.1 L1054.2,509.9 L1055.7,509.6 L1057.2,509.3 L1058.7,509.0 L1060.2,508.7 L1061.7,508.4 L1063.2,508.1 L1064.7,507.8 L1066.2,507.4 L1067.7,507.0 L1069.2,506.6 L1070.7,506.2 L1072.2,505.8 L1073.7,505.3 L1075.2,504.8 L1076.7,504.3 L1078.2,503.8 L1079.7,503.3 L1081.2,502.8 L1082.7,502.2 L1084.2,501.7 L1085.7,501.1 L1087.2,500.5 L1088.7,500.0 L1090.2,499.4 L1091.7,498.8 L1093.2,498.2 L1094.7,497.7 L1096.2,497.1 L1097.7,496.5 L1099.2,496.0 L1100.7,495.4 L1102.2,494.8 L1103.7,494.3 L1105.2,493.8 L1106.7,493.2 L1108.2,492.7 L1109.7,492.2 L1111.2,491.7 L1112.7,491.2 L1114.2,490.7 L1115.7,490.2 L1117.2,489.8 L1118.7,489.3 L1120.2,488.9 L1121.7,488.5 L1123.2,488.0 L1124.7,487.6 L1126.2,487.2 L1127.7,486.9 L1129.2,486.5 L1130.7,486.1 L1132.2,485.8 L1133.7,485.5 L1135.2,485.2 L1136.7,484.9 L1138.2,484.6 L1139.7,484.3 L1141.2,484.1 L1142.7,483.9 L1144.2,483.7 L1145.7,483.5 L1147.2,483.3 L1148.7,483.1 L1150.2,483.0 L1151.7,482.9 L1153.2,482.7 L1154.7,482.6 L1156.2,482.5 L1157.7,482.5 L1159.2,482.4 L1160.7,482.3 L1162.2,482.3 L1163.7,482.2 L1165.2,482.1 L1166.7,482.1 L1168.2,482.1 L1169.7,482.0 L1171.2,482.0 L1172.7,482.0 L1174.2,481.9 L1175.7,481.9 L1177.2,481.9 L1178.7,481.9 L1180.2,481.8 L1181.7,481.8 L1183.2,481.7 L1184.7,481.7 L1186.2,481.7 L1187.7,481.6 L1189.2,481.5 L1190.7,481.5 L1192.2,481.4 L1193.7,481.3 L1195.2,481.2 L1196.7,481.1" fill="none" stroke="#78A835" stroke-width="1.6" stroke-linejoin="round" stroke-linecap="round"/>
<line x1="783.0" y1="449.5" x2="829.3" y2="449.5" stroke="#DC5726" stroke-width="1.6"/>
<text x="834.0" y="456.8" font-size="22" text-anchor="start" >20 nm</text>
<line x1="783.0" y1="474.5" x2="829.3" y2="474.5" stroke="#3D8C70" stroke-width="1.6"/>
<text x="834.0" y="481.8" font-size="22" text-anchor="start" >45 nm</text>
<line x1="783.0" y1="499.5" x2="829.3" y2="499.5" stroke="#5468A6" stroke-width="1.6"/>
<text x="834.0" y="506.8" font-size="22" text-anchor="start" >99 nm</text>
<line x1="783.0" y1="524.5" x2="829.3" y2="524.5" stroke="#C93D9A" stroke-width="1.6"/>
<text x="834.0" y="531.8" font-size="22" text-anchor="start" >208 nm</text>
<line x1="783.0" y1="549.5" x2="829.3" y2="549.5" stroke="#78A835" stroke-width="1.6"/>
<text x="834.0" y="556.8" font-size="22" text-anchor="start" >425 nm</text>
<line x1="990.2" y1="587.3" x2="947.5" y2="514" stroke="#000" stroke-width="1.7"/>
<polygon points="940.9,503.2 951.3,513.5 945.0,516.9" fill="#000"/>
<rect x="112.8" y="749.5" width="463.5" height="236.8" fill="none" stroke="#000" stroke-width="2.7"/>
<line x1="112.8" y1="938.9" x2="120.7" y2="938.9" stroke="#000" stroke-width="2.5"/>
<line x1="112.8" y1="891.6" x2="120.7" y2="891.6" stroke="#000" stroke-width="2.5"/>
<line x1="112.8" y1="844.2" x2="120.7" y2="844.2" stroke="#000" stroke-width="2.5"/>
<line x1="112.8" y1="796.9" x2="120.7" y2="796.9" stroke="#000" stroke-width="2.5"/>
<line x1="221.9" y1="986.3" x2="221.9" y2="978.3" stroke="#000" stroke-width="2.5"/>
<line x1="330.9" y1="986.3" x2="330.9" y2="978.3" stroke="#000" stroke-width="2.5"/>
<line x1="440.0" y1="986.3" x2="440.0" y2="978.3" stroke="#000" stroke-width="2.5"/>
<line x1="549.0" y1="986.3" x2="549.0" y2="978.3" stroke="#000" stroke-width="2.5"/>
<text x="104.3" y="755.3" font-size="22" text-anchor="end" >50</text>
<text x="104.3" y="802.7" font-size="22" text-anchor="end" >40</text>
<text x="104.3" y="850.0" font-size="22" text-anchor="end" >30</text>
<text x="104.3" y="897.4" font-size="22" text-anchor="end" >20</text>
<text x="104.3" y="944.7" font-size="22" text-anchor="end" >10</text>
<text x="112.8" y="1012.3" font-size="22" text-anchor="middle" >0</text>
<text x="221.9" y="1012.3" font-size="22" text-anchor="middle" >4</text>
<text x="330.9" y="1012.3" font-size="22" text-anchor="middle" >8</text>
<text x="440.0" y="1012.3" font-size="22" text-anchor="middle" >12</text>
<text x="549.0" y="1012.3" font-size="22" text-anchor="middle" >16</text>
<text x="328.5" y="1037.5" font-size="22" font-weight="bold" text-anchor="middle" >Frequency / THz</text>
<text transform="translate(19.2,942.7) rotate(-90)" font-size="22" font-weight="bold" text-anchor="start" >Spectral thermal</text>
<text transform="translate(43.6,927.8) rotate(-90)" font-size="22" font-weight="bold" text-anchor="start" >conductivity /</text>
<text transform="translate(68.5,940.5) rotate(-90)" font-size="22" font-weight="bold" text-anchor="start" >(W&#183;m<tspan font-size="13" font-weight="normal" dy="-8">&#8211;1</tspan><tspan dy="8">&#183;K</tspan><tspan font-size="13" font-weight="normal" dy="-8">&#8211;1</tspan><tspan dy="8">&#183;THz</tspan><tspan font-size="13" font-weight="normal" dy="-8">&#8211;1</tspan><tspan dy="8">)</tspan></text>
<text x="74.5" y="729.2" font-size="32" font-weight="bold" text-anchor="start" >e</text>
<path d="M113.5,985.0 C115.5,984.4 122.0,982.3 125.8,981.2 C129.6,980.1 132.8,980.3 136.3,978.5 C139.8,976.7 143.6,973.0 146.9,970.6 C150.2,968.2 154.0,966.2 156.4,964.3 C158.8,962.4 159.8,961.1 161.6,959.0 C163.3,956.9 165.0,954.3 166.9,951.7 C168.8,949.1 171.1,945.6 173.2,943.2 C175.3,940.8 177.4,939.1 179.5,937.4 C181.6,935.6 184.1,934.5 185.9,932.7 C187.7,930.9 188.7,929.6 190.1,926.4 C191.5,923.2 192.7,917.4 194.3,913.7 C195.9,910.0 197.8,907.9 199.6,904.2 C201.3,900.5 203.1,895.6 204.8,891.6 C206.6,887.6 207.6,886.6 210.1,880.0 C212.6,873.4 217.0,860.0 219.6,852.2 C222.2,844.4 223.4,841.3 225.9,833.2 C228.4,825.1 231.2,810.2 234.4,803.7 C237.6,797.2 241.6,797.3 244.9,794.2 C248.2,791.1 250.9,785.2 254.4,785.2 C257.9,785.2 263.0,791.5 266.0,794.2 C269.0,796.9 270.2,797.2 272.3,801.6 C274.4,806.0 276.5,815.6 278.6,820.6 C280.7,825.6 282.9,828.0 285.0,831.4 C287.1,834.8 289.5,837.1 291.5,841.2 C293.5,845.3 295.6,848.5 297.2,855.8 C298.8,863.1 299.8,876.5 301.3,885.2 C302.8,893.9 304.0,902.5 306.2,908.0 C308.4,913.5 311.3,917.7 314.3,918.5 C317.3,919.3 320.3,917.3 324.1,912.8 C327.9,908.3 332.8,897.1 337.1,891.7 C341.5,886.3 346.4,883.3 350.2,880.3 C354.0,877.3 356.4,876.6 359.9,873.8 C363.4,870.9 367.8,863.5 371.3,863.2 C374.8,862.9 378.1,865.7 381.1,872.1 C384.1,878.5 386.6,891.1 389.3,901.4 C392.0,911.7 394.7,926.6 397.4,934.0 C400.1,941.4 402.5,945.1 405.5,945.9 C408.5,946.7 412.0,945.5 415.3,938.9 C418.6,932.3 422.1,919.0 425.1,906.3 C428.1,893.5 430.2,872.7 433.2,862.4 C436.2,852.1 440.4,846.4 443.1,844.6 C445.8,842.8 446.4,847.2 449.2,851.4 C452.0,855.6 456.3,864.7 459.9,869.8 C463.5,874.9 467.3,877.8 470.6,882.1 C473.9,886.5 476.7,892.4 479.8,895.9 C482.9,899.4 485.9,903.2 489.0,903.2 C492.1,903.2 495.0,899.1 498.2,895.9 C501.4,892.7 505.4,884.7 508.2,883.9 C511.0,883.1 512.8,886.0 515.0,891.3 C517.2,896.6 518.9,906.6 521.2,915.8 C523.5,925.0 526.2,937.2 528.8,946.4 C531.3,955.6 534.0,964.9 536.5,970.9 C539.0,976.9 541.8,980.2 544.1,982.4 C546.4,984.6 545.1,983.5 550.3,983.9 C555.4,984.3 570.9,984.5 575.0,984.6" fill="none" stroke="#DC5726" stroke-width="1.6" stroke-linejoin="round" stroke-linecap="round"/>
<path d="M113.5,985.0 C115.5,984.3 122.0,982.1 125.8,980.6 C129.6,979.1 132.8,977.6 136.3,975.9 C139.8,974.2 143.2,972.0 146.9,970.6 C150.6,969.2 155.5,969.2 158.5,967.5 C161.5,965.8 162.7,962.7 164.8,960.1 C166.9,957.5 169.0,954.0 171.1,951.7 C173.2,949.4 175.3,948.0 177.4,946.4 C179.5,944.8 181.9,944.3 183.8,942.2 C185.7,940.1 187.2,937.4 189.0,933.7 C190.8,930.0 192.4,924.0 194.3,920.0 C196.2,916.0 198.5,912.8 200.6,909.5 C202.7,906.2 204.6,904.9 206.9,900.0 C209.2,895.1 212.5,885.1 214.3,880.0 C216.1,874.9 215.2,874.8 217.5,869.1 C219.8,863.4 224.8,852.9 228.0,845.9 C231.2,838.9 233.7,831.1 236.5,826.9 C239.3,822.7 241.8,822.8 244.9,820.6 C248.1,818.4 251.9,813.6 255.4,813.6 C258.9,813.6 262.5,816.3 266.0,820.6 C269.5,824.9 273.3,834.1 276.5,839.6 C279.7,845.1 281.9,848.5 285.0,853.4 C288.1,858.3 292.1,863.1 294.8,868.9 C297.5,874.7 299.1,880.5 301.3,888.4 C303.5,896.3 305.5,910.1 307.8,916.1 C310.1,922.1 312.1,924.0 315.1,924.3 C318.1,924.6 321.2,921.5 325.7,917.7 C330.2,913.9 336.8,906.3 342.0,901.4 C347.2,896.5 352.6,891.0 356.7,888.4 C360.8,885.8 363.1,885.5 366.4,886.0 C369.6,886.5 373.2,887.8 376.2,891.7 C379.2,895.6 381.4,902.0 384.4,909.6 C387.4,917.2 390.6,930.6 394.1,937.3 C397.6,944.0 401.7,948.9 405.5,950.0 C409.3,951.1 413.1,950.8 416.9,943.8 C420.7,936.8 425.0,918.3 428.3,908.0 C431.6,897.7 433.5,887.8 436.5,881.9 C439.5,876.0 443.0,873.4 446.1,872.9 C449.2,872.4 451.7,875.4 455.3,879.0 C458.9,882.6 463.8,889.2 467.6,894.3 C471.4,899.4 474.7,905.9 478.3,909.6 C481.9,913.3 485.9,916.5 489.0,916.5 C492.1,916.5 494.1,911.8 496.7,909.6 C499.2,907.4 501.8,903.2 504.3,903.2 C506.9,903.2 509.7,905.2 512.0,909.6 C514.3,914.0 515.8,921.4 518.1,929.6 C520.4,937.8 523.0,950.8 525.8,958.7 C528.6,966.6 531.4,972.8 535.0,977.0 C538.6,981.2 540.5,982.6 547.2,983.9 C553.9,985.2 570.4,984.5 575.0,984.6" fill="none" stroke="#3D8C70" stroke-width="1.6" stroke-linejoin="round" stroke-linecap="round"/>
<path d="M113.5,985.0 C115.5,984.8 122.3,984.2 125.8,983.8 C129.2,983.4 131.6,983.9 134.2,982.7 C136.8,981.6 139.0,978.7 141.6,976.9 C144.2,975.1 146.8,973.3 150.0,971.7 C153.2,970.1 157.4,969.3 160.6,967.5 C163.8,965.7 166.2,963.4 169.0,961.1 C171.8,958.8 174.6,956.2 177.4,953.8 C180.2,951.3 183.1,950.6 185.9,946.4 C188.7,942.2 191.7,932.4 194.3,928.5 C196.9,924.6 199.1,924.8 201.7,923.2 C204.3,921.6 208.0,920.6 210.1,919.0 C212.2,917.4 213.1,916.7 214.3,913.7 C215.5,910.7 216.6,905.3 217.5,901.1 C218.4,896.9 218.9,891.9 219.6,888.4 C220.3,884.9 219.9,885.0 221.7,880.0 C223.5,875.0 227.4,862.4 230.2,858.5 C233.0,854.6 236.1,857.8 238.6,856.4 C241.1,855.0 242.6,852.3 244.9,850.1 C247.2,847.9 248.8,842.4 252.3,843.4 C255.8,844.4 261.6,851.4 266.0,856.4 C270.4,861.4 275.4,869.3 278.6,873.3 C281.8,877.3 282.6,876.4 285.0,880.3 C287.4,884.2 290.4,889.8 293.1,896.6 C295.8,903.4 298.0,914.8 301.3,921.0 C304.6,927.2 308.9,932.9 312.7,934.0 C316.5,935.1 320.0,930.4 324.1,927.5 C328.2,924.6 332.0,919.6 337.1,916.9 C342.2,914.2 350.1,912.7 355.0,911.2 C359.9,909.7 362.9,907.2 366.4,908.0 C369.9,908.8 372.9,911.8 376.2,916.1 C379.5,920.4 382.7,928.3 386.0,934.0 C389.3,939.7 392.6,946.4 395.8,950.3 C399.1,954.2 402.2,957.3 405.5,957.6 C408.8,957.9 411.8,958.0 415.3,951.9 C418.8,945.8 423.4,929.7 426.7,921.0 C430.0,912.3 432.6,904.7 434.9,899.8 C437.2,894.9 437.7,891.9 440.6,891.7 C443.5,891.6 448.1,895.6 452.3,898.9 C456.5,902.1 461.7,906.9 466.0,911.2 C470.3,915.6 474.2,921.5 478.3,925.0 C482.4,928.5 486.4,931.4 490.5,932.3 C494.6,933.2 499.5,930.2 502.8,930.3 C506.1,930.3 507.9,930.2 510.5,932.6 C513.0,935.0 515.8,939.5 518.1,944.9 C520.4,950.3 521.9,959.2 524.2,964.8 C526.5,970.4 528.6,975.5 531.9,978.6 C535.2,981.7 536.9,982.6 544.1,983.6 C551.3,984.6 569.9,984.4 575.0,984.6" fill="none" stroke="#5468A6" stroke-width="1.6" stroke-linejoin="round" stroke-linecap="round"/>
<path d="M113.5,985.0 C116.4,984.4 126.4,982.1 131.1,981.2 C135.8,980.3 138.1,980.1 141.6,979.6 C145.1,979.1 148.9,979.0 152.1,978.0 C155.3,977.0 158.3,975.4 160.6,973.8 C162.9,972.2 163.9,971.1 165.8,968.5 C167.7,965.9 170.3,960.5 172.2,958.0 C174.1,955.5 175.1,955.7 177.4,953.8 C179.7,951.9 183.4,949.2 185.9,946.4 C188.4,943.6 190.3,940.1 192.2,936.9 C194.1,933.7 195.4,930.2 197.5,927.4 C199.6,924.6 202.2,923.1 204.8,920.0 C207.4,916.9 210.5,912.4 213.3,908.5 C216.1,904.6 218.9,900.9 221.7,896.9 C224.5,892.9 227.5,887.8 230.0,884.2 C232.5,880.6 232.6,880.0 236.5,875.4 C240.4,870.8 248.4,858.0 253.3,856.8 C258.2,855.6 261.8,863.5 266.0,868.0 C270.2,872.5 275.4,880.1 278.6,883.8 C281.8,887.5 282.6,886.5 285.0,890.0 C287.4,893.5 290.4,898.5 293.1,904.7 C295.8,911.0 298.3,921.5 301.3,927.5 C304.3,933.5 307.3,939.0 311.1,940.5 C314.9,942.0 319.8,938.9 324.1,936.5 C328.4,934.1 333.0,929.0 337.1,925.9 C341.2,922.8 345.0,918.9 348.5,918.1 C352.0,917.3 354.8,920.7 358.3,921.3 C361.8,921.9 365.9,919.9 369.7,921.8 C373.5,923.6 377.6,928.2 381.1,932.4 C384.6,936.6 386.8,942.8 390.9,947.1 C395.0,951.5 401.4,957.4 405.5,958.5 C409.6,959.6 411.8,959.3 415.3,953.6 C418.8,947.9 423.2,932.2 426.7,924.3 C430.2,916.4 433.5,910.3 436.5,906.3 C439.5,902.3 441.5,899.5 444.6,900.1 C447.7,900.7 451.5,905.2 455.3,909.6 C459.1,914.0 463.8,921.9 467.6,926.5 C471.4,931.1 474.5,934.7 478.3,937.2 C482.1,939.8 486.7,941.5 490.5,941.8 C494.3,942.0 498.1,939.9 501.3,938.7 C504.5,937.6 507.1,934.1 509.7,934.9 C512.2,935.7 514.4,938.8 516.6,943.3 C518.8,947.8 520.7,955.6 522.7,961.7 C524.7,967.8 526.8,976.5 528.8,980.1 C530.8,983.7 527.3,982.5 535.0,983.2 C542.7,984.0 568.3,984.4 575.0,984.6" fill="none" stroke="#C93D9A" stroke-width="1.6" stroke-linejoin="round" stroke-linecap="round"/>
<line x1="452.3" y1="767.3" x2="498.7" y2="767.3" stroke="#DC5726" stroke-width="1.6"/>
<text x="504.0" y="774.3" font-size="22" text-anchor="start" >300 K</text>
<line x1="452.3" y1="792.2" x2="498.7" y2="792.2" stroke="#3D8C70" stroke-width="1.6"/>
<text x="504.0" y="799.2" font-size="22" text-anchor="start" >400 K</text>
<line x1="452.3" y1="817.1" x2="498.7" y2="817.1" stroke="#5468A6" stroke-width="1.6"/>
<text x="504.0" y="824.1" font-size="22" text-anchor="start" >500 K</text>
<line x1="452.3" y1="842.0" x2="498.7" y2="842.0" stroke="#C93D9A" stroke-width="1.6"/>
<text x="504.0" y="849.0" font-size="22" text-anchor="start" >600 K</text>
<rect x="734.6" y="749.5" width="463.0" height="236.7" fill="none" stroke="#000" stroke-width="2.7"/>
<line x1="734.6" y1="927.0" x2="742.6" y2="927.0" stroke="#000" stroke-width="2.5"/>
<line x1="734.6" y1="867.9" x2="742.6" y2="867.9" stroke="#000" stroke-width="2.5"/>
<line x1="734.6" y1="808.7" x2="742.6" y2="808.7" stroke="#000" stroke-width="2.5"/>
<line x1="843.5" y1="986.2" x2="843.5" y2="978.2" stroke="#000" stroke-width="2.5"/>
<line x1="952.5" y1="986.2" x2="952.5" y2="978.2" stroke="#000" stroke-width="2.5"/>
<line x1="1061.4" y1="986.2" x2="1061.4" y2="978.2" stroke="#000" stroke-width="2.5"/>
<line x1="1170.4" y1="986.2" x2="1170.4" y2="978.2" stroke="#000" stroke-width="2.5"/>
<text x="724.8" y="756.4" font-size="22" text-anchor="end" >400</text>
<text x="724.8" y="815.6" font-size="22" text-anchor="end" >300</text>
<text x="724.8" y="874.8" font-size="22" text-anchor="end" >200</text>
<text x="724.8" y="933.9" font-size="22" text-anchor="end" >100</text>
<text x="734.6" y="1012.3" font-size="22" text-anchor="middle" >0</text>
<text x="843.5" y="1012.3" font-size="22" text-anchor="middle" >4</text>
<text x="952.5" y="1012.3" font-size="22" text-anchor="middle" >8</text>
<text x="1061.4" y="1012.3" font-size="22" text-anchor="middle" >12</text>
<text x="1170.4" y="1012.3" font-size="22" text-anchor="middle" >16</text>
<text x="960.8" y="1037.5" font-size="22" font-weight="bold" text-anchor="middle" >Frequency / THz</text>
<text transform="translate(654.0,979.3) rotate(-90)" font-size="22.5" font-weight="bold" text-anchor="start" >Accumulative thermal</text>
<text transform="translate(679.8,991.4) rotate(-90)" font-size="22" font-weight="bold" text-anchor="start" >conductivity / (W&#183;m<tspan font-size="13" font-weight="normal" dy="-8">&#8211;1</tspan><tspan dy="8">&#183;K</tspan><tspan font-size="13" font-weight="normal" dy="-8">&#8211;1</tspan><tspan dy="8">)</tspan></text>
<text x="687.5" y="735.5" font-size="32" font-weight="bold" text-anchor="start" >f</text>
<line x1="1061.8" y1="749.5" x2="1061.8" y2="986.2" stroke="#000" stroke-width="1.5" stroke-dasharray="6.2,4.3"/>
<path d="M734.7,986.0 C738.9,985.9 751.6,986.1 760.0,985.6 C768.4,985.1 776.7,984.4 785.0,983.0 C793.3,981.6 803.0,979.4 810.0,977.5 C817.0,975.6 821.2,974.2 826.7,971.7 C832.2,969.2 837.8,966.4 843.3,962.5 C848.8,958.6 854.4,953.2 860.0,948.3 C865.6,943.4 871.2,938.1 876.7,933.3 C882.2,928.4 887.8,923.5 893.3,919.2 C898.8,914.9 905.5,910.4 910.0,907.5 C914.5,904.6 915.8,903.5 920.0,901.7 C924.2,899.9 929.6,898.4 935.0,896.7 C940.4,895.0 945.8,894.1 952.5,891.3 C959.2,888.5 967.5,884.0 975.0,880.0 C982.5,876.0 991.5,870.8 997.5,867.6 C1003.5,864.4 1006.5,862.6 1011.0,860.9 C1015.5,859.2 1019.2,858.6 1024.5,857.5 C1029.8,856.4 1037.2,855.7 1042.5,854.1 C1047.8,852.5 1052.2,850.2 1056.0,848.1 C1059.8,846.0 1060.5,844.7 1065.0,841.8 C1069.5,838.9 1077.0,833.7 1083.0,830.5 C1089.0,827.3 1095.0,825.0 1101.0,822.6 C1107.0,820.2 1113.8,818.0 1119.0,815.9 C1124.2,813.8 1128.4,811.9 1132.5,810.3 C1136.6,808.7 1140.0,807.2 1143.8,806.2 C1147.5,805.2 1151.5,804.9 1155.0,804.6 C1158.5,804.3 1161.7,804.5 1165.0,804.4 C1168.3,804.3 1171.7,804.2 1175.0,804.2 C1178.3,804.2 1181.4,804.2 1185.0,804.2 C1188.6,804.2 1194.7,804.2 1196.6,804.2" fill="none" stroke="#DC5726" stroke-width="1.6" stroke-linejoin="round" stroke-linecap="round"/>
<path d="M734.7,986.0 C738.9,985.9 751.6,986.1 760.0,985.6 C768.4,985.1 776.7,984.5 785.0,983.3 C793.3,982.1 803.0,980.0 810.0,978.3 C817.0,976.6 821.2,975.5 826.7,973.3 C832.2,971.1 837.8,968.5 843.3,965.0 C848.8,961.5 854.4,956.8 860.0,952.5 C865.6,948.2 871.2,943.5 876.7,939.2 C882.2,934.9 887.8,930.5 893.3,926.7 C898.8,923.0 903.9,919.6 910.0,916.7 C916.1,913.8 922.9,911.7 930.0,909.3 C937.1,906.9 945.0,905.3 952.5,902.5 C960.0,899.7 967.5,895.8 975.0,892.4 C982.5,889.0 991.1,884.8 997.5,882.3 C1003.9,879.8 1007.7,878.6 1013.3,877.3 C1018.9,876.0 1025.7,875.4 1031.3,874.4 C1036.9,873.4 1042.1,872.5 1047.0,871.0 C1051.9,869.5 1056.0,867.6 1060.5,865.4 C1065.0,863.1 1068.8,860.2 1074.0,857.5 C1079.2,854.8 1086.0,851.4 1092.0,849.0 C1098.0,846.6 1104.0,845.0 1110.0,842.9 C1116.0,840.8 1122.8,837.8 1128.0,836.1 C1133.2,834.4 1137.0,833.5 1141.5,832.8 C1146.0,832.1 1151.1,832.1 1155.0,831.9 C1158.9,831.7 1161.7,831.7 1165.0,831.6 C1168.3,831.6 1171.7,831.4 1175.0,831.4 C1178.3,831.4 1181.4,831.4 1185.0,831.4 C1188.6,831.4 1194.7,831.4 1196.6,831.4" fill="none" stroke="#3D8C70" stroke-width="1.6" stroke-linejoin="round" stroke-linecap="round"/>
<path d="M734.7,986.0 C738.9,986.0 751.6,986.1 760.0,985.7 C768.4,985.3 776.7,984.8 785.0,983.7 C793.3,982.6 803.0,980.7 810.0,979.2 C817.0,977.8 821.2,976.8 826.7,975.0 C832.2,973.2 837.8,971.1 843.3,968.3 C848.8,965.5 854.4,961.9 860.0,958.3 C865.6,954.7 871.2,950.3 876.7,946.7 C882.2,943.1 887.8,939.5 893.3,936.7 C898.8,933.9 903.9,932.0 910.0,930.0 C916.1,928.0 922.9,926.8 930.0,925.0 C937.1,923.2 945.0,921.6 952.5,919.4 C960.0,917.1 967.5,914.1 975.0,911.5 C982.5,908.9 990.8,905.6 997.5,903.6 C1004.2,901.6 1009.9,900.8 1015.5,899.8 C1021.1,898.8 1026.0,898.5 1031.3,897.6 C1036.5,896.7 1041.8,896.0 1047.0,894.6 C1052.2,893.2 1057.5,891.0 1062.8,889.0 C1068.0,887.0 1072.5,884.5 1078.5,882.3 C1084.5,880.0 1091.7,877.8 1098.8,875.5 C1105.9,873.2 1114.2,870.6 1121.3,868.8 C1128.4,867.0 1135.9,865.5 1141.5,864.7 C1147.1,863.9 1151.1,864.0 1155.0,863.8 C1158.9,863.6 1161.7,863.7 1165.0,863.7 C1168.3,863.7 1171.7,863.6 1175.0,863.6 C1178.3,863.6 1181.4,863.6 1185.0,863.6 C1188.6,863.6 1194.7,863.6 1196.6,863.6" fill="none" stroke="#5468A6" stroke-width="1.6" stroke-linejoin="round" stroke-linecap="round"/>
<path d="M734.7,986.0 C738.9,986.0 751.6,986.0 760.0,985.7 C768.4,985.4 776.7,985.2 785.0,984.3 C793.3,983.3 803.0,981.4 810.0,980.0 C817.0,978.6 821.2,977.5 826.7,975.8 C832.2,974.1 837.8,972.6 843.3,970.0 C848.8,967.4 854.4,963.8 860.0,960.3 C865.6,956.8 871.2,952.6 876.7,949.2 C882.2,945.8 887.8,942.6 893.3,940.0 C898.8,937.4 903.9,934.9 910.0,933.3 C916.1,931.7 922.9,932.0 930.0,930.6 C937.1,929.2 945.0,927.0 952.5,925.0 C960.0,923.0 967.5,920.4 975.0,918.3 C982.5,916.2 990.8,913.9 997.5,912.2 C1004.2,910.6 1009.5,909.3 1015.5,908.4 C1021.5,907.5 1027.9,907.4 1033.5,906.6 C1039.1,905.8 1044.4,904.9 1049.3,903.6 C1054.2,902.4 1057.9,900.9 1062.8,899.1 C1067.7,897.4 1072.5,895.1 1078.5,893.1 C1084.5,891.1 1091.7,889.1 1098.8,887.2 C1105.9,885.3 1114.2,883.3 1121.3,881.8 C1128.4,880.3 1135.9,878.9 1141.5,878.2 C1147.1,877.5 1151.1,877.9 1155.0,877.8 C1158.9,877.7 1161.7,877.7 1165.0,877.6 C1168.3,877.6 1171.7,877.5 1175.0,877.5 C1178.3,877.5 1181.4,877.5 1185.0,877.5 C1188.6,877.5 1194.7,877.5 1196.6,877.5" fill="none" stroke="#C93D9A" stroke-width="1.6" stroke-linejoin="round" stroke-linecap="round"/>
<text x="974.0" y="948.0" font-size="22" text-anchor="start" >Acoustic</text>
<text x="1077.0" y="948.0" font-size="22" text-anchor="start" >Optic</text>
<line x1="783.0" y1="767.5" x2="829.3" y2="767.5" stroke="#DC5726" stroke-width="1.6"/>
<text x="834.0" y="774.7" font-size="22" text-anchor="start" >300 K</text>
<line x1="783.0" y1="792.4" x2="829.3" y2="792.4" stroke="#3D8C70" stroke-width="1.6"/>
<text x="834.0" y="799.6" font-size="22" text-anchor="start" >400 K</text>
<line x1="783.0" y1="817.3" x2="829.3" y2="817.3" stroke="#5468A6" stroke-width="1.6"/>
<text x="834.0" y="824.5" font-size="22" text-anchor="start" >500 K</text>
<line x1="783.0" y1="842.2" x2="829.3" y2="842.2" stroke="#C93D9A" stroke-width="1.6"/>
<text x="834.0" y="849.4" font-size="22" text-anchor="start" >600 K</text>
</svg>
</body></html>
